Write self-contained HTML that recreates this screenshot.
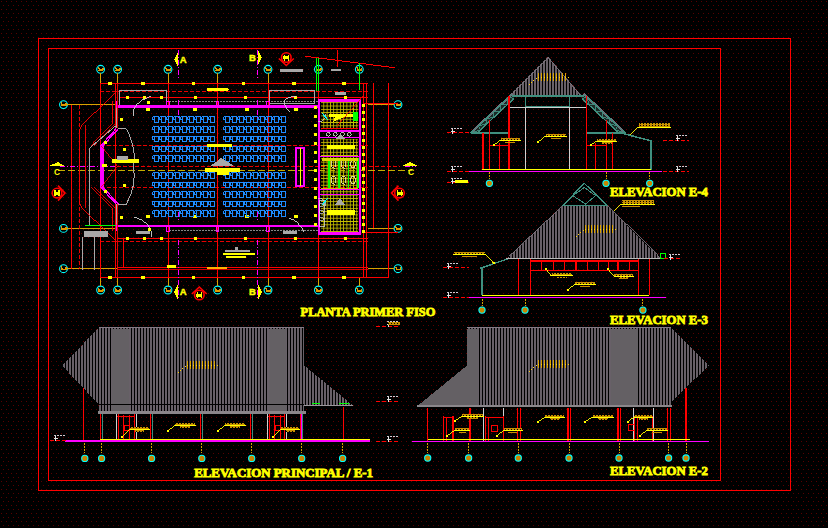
<!DOCTYPE html>
<html><head><meta charset="utf-8"><style>
html,body{margin:0;padding:0;background:#000;width:828px;height:528px;overflow:hidden}
svg{display:block}
</style></head><body>
<svg width="828" height="528" viewBox="0 0 828 528" shape-rendering="crispEdges">
<defs><pattern id="txt" width="3" height="2" patternUnits="userSpaceOnUse"><rect width="3" height="2" fill="#c89000"/><rect x="1" y="1" width="1" height="1" fill="#000"/></pattern><pattern id="dots" width="10" height="8" patternUnits="userSpaceOnUse"><rect width="10" height="8" fill="#000"/><rect x="1" y="1" width="1" height="1" fill="#5a0000"/><rect x="6" y="1" width="1" height="1" fill="#5a0000"/><rect x="3" y="5" width="1" height="1" fill="#5a0000"/><rect x="8" y="5" width="1" height="1" fill="#5a0000"/></pattern></defs>
<rect width="828" height="528" fill="url(#dots)"/>
<rect x="38.5" y="38.5" width="752" height="452" fill="none" stroke="#ff0000" stroke-width="1.6" />
<rect x="48.5" y="48.5" width="672" height="432" fill="none" stroke="#ff0000" stroke-width="1.6" />
<circle cx="100.6" cy="69.3" r="3.9" fill="#000" stroke="#00ffff" stroke-width="1.1" shape-rendering="geometricPrecision"/>
<path d="M98.1,67.3 l1.5,2.5 h3.5 v-2 M98.1,70.3 h5" stroke="#e09a00" stroke-width="1.3" fill="none"/>
<circle cx="100.6" cy="290" r="3.9" fill="#000" stroke="#00ffff" stroke-width="1.1" shape-rendering="geometricPrecision"/>
<path d="M98.1,288 l1.5,2.5 h3.5 v-2 M98.1,291 h5" stroke="#e09a00" stroke-width="1.3" fill="none"/>
<line x1="100.6" y1="73.2" x2="100.6" y2="83" stroke="#d9a300" stroke-width="1" />
<line x1="100.6" y1="278" x2="100.6" y2="286.2" stroke="#d9a300" stroke-width="1" />
<circle cx="117.6" cy="69.3" r="3.9" fill="#000" stroke="#00ffff" stroke-width="1.1" shape-rendering="geometricPrecision"/>
<path d="M115.1,67.3 l1.5,2.5 h3.5 v-2 M115.1,70.3 h5" stroke="#e09a00" stroke-width="1.3" fill="none"/>
<circle cx="117.6" cy="290" r="3.9" fill="#000" stroke="#00ffff" stroke-width="1.1" shape-rendering="geometricPrecision"/>
<path d="M115.1,288 l1.5,2.5 h3.5 v-2 M115.1,291 h5" stroke="#e09a00" stroke-width="1.3" fill="none"/>
<line x1="117.6" y1="73.2" x2="117.6" y2="83" stroke="#d9a300" stroke-width="1" />
<line x1="117.6" y1="278" x2="117.6" y2="286.2" stroke="#d9a300" stroke-width="1" />
<circle cx="168" cy="69.3" r="3.9" fill="#000" stroke="#00ffff" stroke-width="1.1" shape-rendering="geometricPrecision"/>
<path d="M165.5,67.3 l1.5,2.5 h3.5 v-2 M165.5,70.3 h5" stroke="#e09a00" stroke-width="1.3" fill="none"/>
<circle cx="168" cy="290" r="3.9" fill="#000" stroke="#00ffff" stroke-width="1.1" shape-rendering="geometricPrecision"/>
<path d="M165.5,288 l1.5,2.5 h3.5 v-2 M165.5,291 h5" stroke="#e09a00" stroke-width="1.3" fill="none"/>
<line x1="168" y1="73.2" x2="168" y2="83" stroke="#d9a300" stroke-width="1" />
<line x1="168" y1="278" x2="168" y2="286.2" stroke="#d9a300" stroke-width="1" />
<circle cx="217.6" cy="69.3" r="3.9" fill="#000" stroke="#00ffff" stroke-width="1.1" shape-rendering="geometricPrecision"/>
<path d="M215.1,67.3 l1.5,2.5 h3.5 v-2 M215.1,70.3 h5" stroke="#e09a00" stroke-width="1.3" fill="none"/>
<circle cx="217.6" cy="290" r="3.9" fill="#000" stroke="#00ffff" stroke-width="1.1" shape-rendering="geometricPrecision"/>
<path d="M215.1,288 l1.5,2.5 h3.5 v-2 M215.1,291 h5" stroke="#e09a00" stroke-width="1.3" fill="none"/>
<line x1="217.6" y1="73.2" x2="217.6" y2="83" stroke="#d9a300" stroke-width="1" />
<line x1="217.6" y1="278" x2="217.6" y2="286.2" stroke="#d9a300" stroke-width="1" />
<circle cx="268" cy="69.3" r="3.9" fill="#000" stroke="#00ffff" stroke-width="1.1" shape-rendering="geometricPrecision"/>
<path d="M265.5,67.3 l1.5,2.5 h3.5 v-2 M265.5,70.3 h5" stroke="#e09a00" stroke-width="1.3" fill="none"/>
<circle cx="268" cy="290" r="3.9" fill="#000" stroke="#00ffff" stroke-width="1.1" shape-rendering="geometricPrecision"/>
<path d="M265.5,288 l1.5,2.5 h3.5 v-2 M265.5,291 h5" stroke="#e09a00" stroke-width="1.3" fill="none"/>
<line x1="268" y1="73.2" x2="268" y2="83" stroke="#d9a300" stroke-width="1" />
<line x1="268" y1="278" x2="268" y2="286.2" stroke="#d9a300" stroke-width="1" />
<circle cx="318.4" cy="69.3" r="3.9" fill="#000" stroke="#00ffff" stroke-width="1.1" shape-rendering="geometricPrecision"/>
<path d="M315.9,67.3 l1.5,2.5 h3.5 v-2 M315.9,70.3 h5" stroke="#e09a00" stroke-width="1.3" fill="none"/>
<circle cx="318.4" cy="290" r="3.9" fill="#000" stroke="#00ffff" stroke-width="1.1" shape-rendering="geometricPrecision"/>
<path d="M315.9,288 l1.5,2.5 h3.5 v-2 M315.9,291 h5" stroke="#e09a00" stroke-width="1.3" fill="none"/>
<line x1="318.4" y1="73.2" x2="318.4" y2="83" stroke="#d9a300" stroke-width="1" />
<line x1="318.4" y1="278" x2="318.4" y2="286.2" stroke="#d9a300" stroke-width="1" />
<circle cx="359.3" cy="69.3" r="3.9" fill="#000" stroke="#00ffff" stroke-width="1.1" shape-rendering="geometricPrecision"/>
<path d="M356.8,67.3 l1.5,2.5 h3.5 v-2 M356.8,70.3 h5" stroke="#e09a00" stroke-width="1.3" fill="none"/>
<circle cx="359.3" cy="290" r="3.9" fill="#000" stroke="#00ffff" stroke-width="1.1" shape-rendering="geometricPrecision"/>
<path d="M356.8,288 l1.5,2.5 h3.5 v-2 M356.8,291 h5" stroke="#e09a00" stroke-width="1.3" fill="none"/>
<line x1="359.3" y1="73.2" x2="359.3" y2="83" stroke="#d9a300" stroke-width="1" />
<line x1="359.3" y1="278" x2="359.3" y2="286.2" stroke="#d9a300" stroke-width="1" />
<circle cx="63.5" cy="104.6" r="3.9" fill="#000" stroke="#00ffff" stroke-width="1.1" shape-rendering="geometricPrecision"/>
<path d="M61,102.6 l1.5,2.5 h3.5 v-2 M61,105.6 h5" stroke="#e09a00" stroke-width="1.3" fill="none"/>
<circle cx="398" cy="104.6" r="3.9" fill="#000" stroke="#00ffff" stroke-width="1.1" shape-rendering="geometricPrecision"/>
<path d="M395.5,102.6 l1.5,2.5 h3.5 v-2 M395.5,105.6 h5" stroke="#e09a00" stroke-width="1.3" fill="none"/>
<line x1="67.4" y1="104.6" x2="117" y2="104.6" stroke="#d9a300" stroke-width="1" />
<line x1="368" y1="104.6" x2="394.2" y2="104.6" stroke="#d9a300" stroke-width="1" />
<circle cx="63.5" cy="228.4" r="3.9" fill="#000" stroke="#00ffff" stroke-width="1.1" shape-rendering="geometricPrecision"/>
<path d="M61,226.4 l1.5,2.5 h3.5 v-2 M61,229.4 h5" stroke="#e09a00" stroke-width="1.3" fill="none"/>
<circle cx="398" cy="228.4" r="3.9" fill="#000" stroke="#00ffff" stroke-width="1.1" shape-rendering="geometricPrecision"/>
<path d="M395.5,226.4 l1.5,2.5 h3.5 v-2 M395.5,229.4 h5" stroke="#e09a00" stroke-width="1.3" fill="none"/>
<line x1="67.4" y1="228.4" x2="117" y2="228.4" stroke="#d9a300" stroke-width="1" />
<line x1="368" y1="228.4" x2="394.2" y2="228.4" stroke="#d9a300" stroke-width="1" />
<circle cx="63.5" cy="268.7" r="3.9" fill="#000" stroke="#00ffff" stroke-width="1.1" shape-rendering="geometricPrecision"/>
<path d="M61,266.7 l1.5,2.5 h3.5 v-2 M61,269.7 h5" stroke="#e09a00" stroke-width="1.3" fill="none"/>
<circle cx="398" cy="268.7" r="3.9" fill="#000" stroke="#00ffff" stroke-width="1.1" shape-rendering="geometricPrecision"/>
<path d="M395.5,266.7 l1.5,2.5 h3.5 v-2 M395.5,269.7 h5" stroke="#e09a00" stroke-width="1.3" fill="none"/>
<line x1="67.4" y1="268.7" x2="117" y2="268.7" stroke="#d9a300" stroke-width="1" />
<line x1="368" y1="268.7" x2="394.2" y2="268.7" stroke="#d9a300" stroke-width="1" />
<line x1="100.8" y1="83.3" x2="368" y2="83.3" stroke="#ff0000" stroke-width="1.2" />
<line x1="100.8" y1="277.3" x2="388" y2="277.3" stroke="#ff0000" stroke-width="1.2" />
<rect x="108" y="81.6" width="3.5" height="3" fill="#ffff00" stroke="none" stroke-width="1" />
<rect x="108" y="275.8" width="3.5" height="3" fill="#ffff00" stroke="none" stroke-width="1" />
<rect x="141.4" y="81.6" width="3.5" height="3" fill="#ffff00" stroke="none" stroke-width="1" />
<rect x="141.4" y="275.8" width="3.5" height="3" fill="#ffff00" stroke="none" stroke-width="1" />
<rect x="191.6" y="81.6" width="3.5" height="3" fill="#ffff00" stroke="none" stroke-width="1" />
<rect x="191.6" y="275.8" width="3.5" height="3" fill="#ffff00" stroke="none" stroke-width="1" />
<rect x="241.9" y="81.6" width="3.5" height="3" fill="#ffff00" stroke="none" stroke-width="1" />
<rect x="241.9" y="275.8" width="3.5" height="3" fill="#ffff00" stroke="none" stroke-width="1" />
<rect x="292" y="81.6" width="3.5" height="3" fill="#ffff00" stroke="none" stroke-width="1" />
<rect x="292" y="275.8" width="3.5" height="3" fill="#ffff00" stroke="none" stroke-width="1" />
<rect x="342" y="81.6" width="3.5" height="3" fill="#ffff00" stroke="none" stroke-width="1" />
<rect x="342" y="275.8" width="3.5" height="3" fill="#ffff00" stroke="none" stroke-width="1" />
<line x1="100" y1="91.4" x2="368" y2="91.4" stroke="#ff0000" stroke-width="0.9" stroke-dasharray="4,2"/>
<line x1="119" y1="97.5" x2="368" y2="97.5" stroke="#ff0000" stroke-width="1" />
<line x1="117" y1="238.6" x2="368" y2="238.6" stroke="#ff0000" stroke-width="1" />
<line x1="100" y1="241.9" x2="368" y2="241.9" stroke="#ff0000" stroke-width="0.9" stroke-dasharray="4,2"/>
<rect x="126" y="96" width="3" height="3" fill="#ffff00" stroke="none" stroke-width="1" />
<rect x="126" y="237.2" width="3" height="3" fill="#ffff00" stroke="none" stroke-width="1" />
<rect x="143" y="96" width="3" height="3" fill="#ffff00" stroke="none" stroke-width="1" />
<rect x="143" y="237.2" width="3" height="3" fill="#ffff00" stroke="none" stroke-width="1" />
<rect x="159.7" y="96" width="3" height="3" fill="#ffff00" stroke="none" stroke-width="1" />
<rect x="159.7" y="237.2" width="3" height="3" fill="#ffff00" stroke="none" stroke-width="1" />
<rect x="193.5" y="96" width="3" height="3" fill="#ffff00" stroke="none" stroke-width="1" />
<rect x="193.5" y="237.2" width="3" height="3" fill="#ffff00" stroke="none" stroke-width="1" />
<rect x="243.8" y="96" width="3" height="3" fill="#ffff00" stroke="none" stroke-width="1" />
<rect x="243.8" y="237.2" width="3" height="3" fill="#ffff00" stroke="none" stroke-width="1" />
<rect x="294" y="96" width="3" height="3" fill="#ffff00" stroke="none" stroke-width="1" />
<rect x="294" y="237.2" width="3" height="3" fill="#ffff00" stroke="none" stroke-width="1" />
<rect x="344" y="96" width="3" height="3" fill="#ffff00" stroke="none" stroke-width="1" />
<rect x="344" y="237.2" width="3" height="3" fill="#ffff00" stroke="none" stroke-width="1" />
<rect x="145.6" y="108.2" width="4" height="2.8" fill="#ffff00" stroke="none" stroke-width="1" />
<rect x="145.6" y="215" width="4" height="2.8" fill="#ffff00" stroke="none" stroke-width="1" />
<rect x="192.6" y="108.2" width="4" height="2.8" fill="#ffff00" stroke="none" stroke-width="1" />
<rect x="192.6" y="215" width="4" height="2.8" fill="#ffff00" stroke="none" stroke-width="1" />
<rect x="244.8" y="108.2" width="4" height="2.8" fill="#ffff00" stroke="none" stroke-width="1" />
<rect x="244.8" y="215" width="4" height="2.8" fill="#ffff00" stroke="none" stroke-width="1" />
<rect x="294" y="108.2" width="4" height="2.8" fill="#ffff00" stroke="none" stroke-width="1" />
<rect x="294" y="215" width="4" height="2.8" fill="#ffff00" stroke="none" stroke-width="1" />
<line x1="100.6" y1="83" x2="100.6" y2="277.5" stroke="#ff0000" stroke-width="1" />
<line x1="115.3" y1="83" x2="115.3" y2="277.5" stroke="#ff0000" stroke-width="1" />
<line x1="168" y1="83" x2="168" y2="277.5" stroke="#ff0000" stroke-width="1" />
<line x1="217.6" y1="83" x2="217.6" y2="277.5" stroke="#ff0000" stroke-width="1" />
<line x1="268" y1="83" x2="268" y2="277.5" stroke="#ff0000" stroke-width="1" />
<line x1="318.4" y1="83" x2="318.4" y2="277.5" stroke="#ff0000" stroke-width="1" />
<line x1="363.2" y1="83" x2="363.2" y2="277.5" stroke="#ff0000" stroke-width="1" />
<line x1="366.7" y1="83" x2="366.7" y2="277.5" stroke="#ff0000" stroke-width="1" />
<line x1="388.3" y1="83" x2="388.3" y2="277.5" stroke="#ff0000" stroke-width="1" />
<line x1="373.8" y1="83" x2="373.8" y2="228.4" stroke="#ff0000" stroke-width="1" />
<line x1="71.9" y1="104.6" x2="71.9" y2="269" stroke="#ff0000" stroke-width="1" />
<line x1="79.6" y1="104.6" x2="79.6" y2="269" stroke="#ff0000" stroke-width="0.9" stroke-dasharray="4,2"/>
<line x1="123" y1="238.6" x2="123" y2="268" stroke="#ff0000" stroke-width="1" />
<line x1="101" y1="145.4" x2="368" y2="145.4" stroke="#ff0000" stroke-width="0.9" stroke-dasharray="4,2"/>
<line x1="101" y1="187.3" x2="368" y2="187.3" stroke="#ff0000" stroke-width="0.9" stroke-dasharray="4,2"/>
<line x1="60" y1="166.1" x2="117" y2="166.1" stroke="#ff00ff" stroke-width="1" stroke-dasharray="5,2,1,2"/>
<line x1="117" y1="166.1" x2="400" y2="166.1" stroke="#ff0000" stroke-width="0.9" stroke-dasharray="4,2"/>
<line x1="405" y1="166.1" x2="416" y2="166.1" stroke="#ff00ff" stroke-width="1" stroke-dasharray="5,2,1,2"/>
<line x1="58" y1="170.3" x2="412" y2="170.3" stroke="#d8c000" stroke-width="0.9" stroke-dasharray="7,3"/>
<line x1="117" y1="267.6" x2="368" y2="267.6" stroke="#ff0000" stroke-width="1" />
<line x1="117" y1="269.5" x2="368" y2="269.5" stroke="#ff0000" stroke-width="0.8" />
<line x1="388" y1="103.9" x2="398" y2="103.9" stroke="#ff0000" stroke-width="1" />
<line x1="363" y1="103.9" x2="388" y2="103.9" stroke="#ff0000" stroke-width="1" />
<line x1="363" y1="232" x2="398" y2="232" stroke="#ff0000" stroke-width="1" />
<polygon points="207,88 227.4,88 229.5,89.3 227.4,90.6 207,90.6" fill="#ffff00" stroke="none" stroke-width="1" />
<rect x="119.2" y="90.5" width="47.7" height="15.4" fill="none" stroke="#a8a8a8" stroke-width="1" />
<rect x="269.5" y="90.8" width="45.4" height="12.2" fill="none" stroke="#a8a8a8" stroke-width="1" />
<line x1="169.4" y1="101.7" x2="318" y2="101.7" stroke="#a8a8a8" stroke-width="0.8" stroke-dasharray="2,1"/>
<line x1="169.4" y1="230.5" x2="318" y2="230.5" stroke="#a8a8a8" stroke-width="0.8" stroke-dasharray="2,1"/>
<line x1="116.3" y1="106.3" x2="318.8" y2="106.3" stroke="#ff00ff" stroke-width="2.4" />
<line x1="116.3" y1="225.8" x2="318.8" y2="225.8" stroke="#ff00ff" stroke-width="2.4" />
<rect x="166.8" y="101" width="2.4" height="5" fill="none" stroke="#ff00ff" stroke-width="1" />
<rect x="166.8" y="226" width="2.4" height="5.3" fill="none" stroke="#ff00ff" stroke-width="1" />
<rect x="216.4" y="101" width="2.4" height="5" fill="none" stroke="#ff00ff" stroke-width="1" />
<rect x="216.4" y="226" width="2.4" height="5.3" fill="none" stroke="#ff00ff" stroke-width="1" />
<rect x="266.8" y="101" width="2.4" height="5" fill="none" stroke="#ff00ff" stroke-width="1" />
<rect x="266.8" y="226" width="2.4" height="5.3" fill="none" stroke="#ff00ff" stroke-width="1" />
<polyline points="116.2,128.6 100.9,145.6 100.9,187.3 116.2,204.2" fill="none" stroke="#ff00ff" stroke-width="1.3" />
<polyline points="118.4,128.6 103.1,145.6 103.1,187.3 118.4,204.2" fill="none" stroke="#ff00ff" stroke-width="1.3" />
<line x1="116.5" y1="101" x2="116.5" y2="108.6" stroke="#ff00ff" stroke-width="1.6" />
<line x1="116.5" y1="224" x2="116.5" y2="231" stroke="#ff00ff" stroke-width="1.6" />
<line x1="116" y1="108" x2="116" y2="128" stroke="#a8a8a8" stroke-width="1" />
<line x1="116" y1="204" x2="116" y2="224" stroke="#a8a8a8" stroke-width="1" />
<line x1="112" y1="101" x2="112" y2="124.3" stroke="#ff0000" stroke-width="0.9" />
<line x1="112" y1="208" x2="112" y2="231" stroke="#ff0000" stroke-width="0.9" />
<line x1="117.4" y1="83" x2="117.4" y2="128" stroke="#ff0000" stroke-width="0.9" />
<line x1="117.4" y1="204" x2="117.4" y2="277" stroke="#ff0000" stroke-width="0.9" />
<line x1="114.5" y1="124.3" x2="94" y2="145.6" stroke="#ff0000" stroke-width="0.8" />
<line x1="114.5" y1="208" x2="94" y2="187.3" stroke="#ff0000" stroke-width="0.8" />
<line x1="111.5" y1="124.3" x2="91" y2="145.6" stroke="#ff0000" stroke-width="0.8" />
<line x1="111.5" y1="208" x2="91" y2="187.3" stroke="#ff0000" stroke-width="0.8" />
<polyline points="118,128.6 126.4,128.6" fill="none" stroke="#a8a8a8" stroke-width="1" />
<path d="M126.4,128.6 Q137,150 133.3,166 Q137,185 126.4,204 L118,204" fill="none" stroke="#a8a8a8" stroke-width="1"/>
<polyline points="115.4,126 89.8,148 89.8,226" fill="none" stroke="#a8a8a8" stroke-width="1" />
<polyline points="117.4,91 82,125 79.6,130 79.6,203 82,208 117.4,242" fill="none" stroke="#ff0000" stroke-width="0.9" />
<line x1="85.2" y1="125" x2="85.2" y2="208" stroke="#ff0000" stroke-width="0.9" />
<polyline points="101.4,146 117.4,166 101.4,187" fill="none" stroke="#ff0000" stroke-width="0.8" />
<rect x="111.5" y="159.3" width="27" height="3.5" fill="#ffff00" stroke="none" stroke-width="1" />
<rect x="117.3" y="156.4" width="10.7" height="3.1" fill="#a8a8a8" stroke="none" stroke-width="1" />
<rect x="101.8" y="164" width="4.9" height="3" fill="#ffff00" stroke="none" stroke-width="1" />
<polygon points="48.7,166 58,162.2 65,166" fill="#ffff00" stroke="none" stroke-width="1" />
<text x="54" y="175" font-size="8.5" fill="#ffff00" font-family="Liberation Sans" font-weight="bold">C</text>
<text x="408" y="175" font-size="8.5" fill="#ffff00" font-family="Liberation Sans" font-weight="bold">C</text>
<polygon points="402,166 410,162.2 418,166" fill="#ffff00" stroke="none" stroke-width="1" />
<circle cx="57" cy="193.1" r="4.8" fill="#000" stroke="#ff0000" stroke-width="1.6" shape-rendering="geometricPrecision"/>
<polyline points="58,185.6 65,193.1 58,200.6" fill="none" stroke="#ff0000" stroke-width="1.6" shape-rendering="geometricPrecision"/>
<rect x="54" y="191.6" width="6" height="3" fill="#ffff00" stroke="none" stroke-width="1" />
<line x1="55" y1="190.1" x2="55" y2="196.1" stroke="#ffff00" stroke-width="1.2" />
<line x1="59" y1="190.1" x2="59" y2="196.1" stroke="#ffff00" stroke-width="1.2" />
<circle cx="399.5" cy="193.1" r="4.8" fill="#000" stroke="#ff0000" stroke-width="1.6" shape-rendering="geometricPrecision"/>
<polyline points="398.5,185.6 391.5,193.1 398.5,200.6" fill="none" stroke="#ff0000" stroke-width="1.6" shape-rendering="geometricPrecision"/>
<rect x="396.5" y="191.6" width="6" height="3" fill="#ffff00" stroke="none" stroke-width="1" />
<line x1="397.5" y1="190.1" x2="397.5" y2="196.1" stroke="#ffff00" stroke-width="1.2" />
<line x1="401.5" y1="190.1" x2="401.5" y2="196.1" stroke="#ffff00" stroke-width="1.2" />
<rect x="120" y="118" width="3" height="2.5" fill="#ffff00" stroke="none" stroke-width="1" />
<rect x="120" y="216" width="3" height="2.5" fill="#ffff00" stroke="none" stroke-width="1" />
<rect x="104" y="141" width="3" height="2.5" fill="#ffff00" stroke="none" stroke-width="1" />
<rect x="104" y="190" width="3" height="2.5" fill="#ffff00" stroke="none" stroke-width="1" />
<rect x="123" y="148" width="3" height="2.5" fill="#ffff00" stroke="none" stroke-width="1" />
<rect x="123" y="184" width="3" height="2.5" fill="#ffff00" stroke="none" stroke-width="1" />
<path d="M152.5,116.5 H158.5 M152.5,116.5 V119.5 H154.5 V116.5 M154.5,117.5 V122 H158.5 V116.5" fill="none" stroke="#1e8cff" stroke-width="1"/>
<path d="M223.5,116.5 H229.5 M223.5,116.5 V119.5 H225.5 V116.5 M225.5,117.5 V122 H229.5 V116.5" fill="none" stroke="#1e8cff" stroke-width="1"/>
<path d="M159.5,116.5 H165.5 M159.5,116.5 V119.5 H161.5 V116.5 M161.5,117.5 V122 H165.5 V116.5" fill="none" stroke="#1e8cff" stroke-width="1"/>
<path d="M230.5,116.5 H236.5 M230.5,116.5 V119.5 H232.5 V116.5 M232.5,117.5 V122 H236.5 V116.5" fill="none" stroke="#1e8cff" stroke-width="1"/>
<path d="M166.5,116.5 H172.5 M166.5,116.5 V119.5 H168.5 V116.5 M168.5,117.5 V122 H172.5 V116.5" fill="none" stroke="#1e8cff" stroke-width="1"/>
<path d="M237.5,116.5 H243.5 M237.5,116.5 V119.5 H239.5 V116.5 M239.5,117.5 V122 H243.5 V116.5" fill="none" stroke="#1e8cff" stroke-width="1"/>
<path d="M173.5,116.5 H179.5 M173.5,116.5 V119.5 H175.5 V116.5 M175.5,117.5 V122 H179.5 V116.5" fill="none" stroke="#1e8cff" stroke-width="1"/>
<path d="M244.5,116.5 H250.5 M244.5,116.5 V119.5 H246.5 V116.5 M246.5,117.5 V122 H250.5 V116.5" fill="none" stroke="#1e8cff" stroke-width="1"/>
<path d="M180.5,116.5 H186.5 M180.5,116.5 V119.5 H182.5 V116.5 M182.5,117.5 V122 H186.5 V116.5" fill="none" stroke="#1e8cff" stroke-width="1"/>
<path d="M251.5,116.5 H257.5 M251.5,116.5 V119.5 H253.5 V116.5 M253.5,117.5 V122 H257.5 V116.5" fill="none" stroke="#1e8cff" stroke-width="1"/>
<path d="M187.5,116.5 H193.5 M187.5,116.5 V119.5 H189.5 V116.5 M189.5,117.5 V122 H193.5 V116.5" fill="none" stroke="#1e8cff" stroke-width="1"/>
<path d="M258.5,116.5 H264.5 M258.5,116.5 V119.5 H260.5 V116.5 M260.5,117.5 V122 H264.5 V116.5" fill="none" stroke="#1e8cff" stroke-width="1"/>
<path d="M194.5,116.5 H200.5 M194.5,116.5 V119.5 H196.5 V116.5 M196.5,117.5 V122 H200.5 V116.5" fill="none" stroke="#1e8cff" stroke-width="1"/>
<path d="M265.5,116.5 H271.5 M265.5,116.5 V119.5 H267.5 V116.5 M267.5,117.5 V122 H271.5 V116.5" fill="none" stroke="#1e8cff" stroke-width="1"/>
<path d="M201.5,116.5 H207.5 M201.5,116.5 V119.5 H203.5 V116.5 M203.5,117.5 V122 H207.5 V116.5" fill="none" stroke="#1e8cff" stroke-width="1"/>
<path d="M272.5,116.5 H278.5 M272.5,116.5 V119.5 H274.5 V116.5 M274.5,117.5 V122 H278.5 V116.5" fill="none" stroke="#1e8cff" stroke-width="1"/>
<path d="M208.5,116.5 H214.5 M208.5,116.5 V119.5 H210.5 V116.5 M210.5,117.5 V122 H214.5 V116.5" fill="none" stroke="#1e8cff" stroke-width="1"/>
<path d="M279.5,116.5 H285.5 M279.5,116.5 V119.5 H281.5 V116.5 M281.5,117.5 V122 H285.5 V116.5" fill="none" stroke="#1e8cff" stroke-width="1"/>
<path d="M152.5,126.5 H158.5 M152.5,126.5 V129.5 H154.5 V126.5 M154.5,127.5 V132 H158.5 V126.5" fill="none" stroke="#1e8cff" stroke-width="1"/>
<path d="M223.5,126.5 H229.5 M223.5,126.5 V129.5 H225.5 V126.5 M225.5,127.5 V132 H229.5 V126.5" fill="none" stroke="#1e8cff" stroke-width="1"/>
<path d="M159.5,126.5 H165.5 M159.5,126.5 V129.5 H161.5 V126.5 M161.5,127.5 V132 H165.5 V126.5" fill="none" stroke="#1e8cff" stroke-width="1"/>
<path d="M230.5,126.5 H236.5 M230.5,126.5 V129.5 H232.5 V126.5 M232.5,127.5 V132 H236.5 V126.5" fill="none" stroke="#1e8cff" stroke-width="1"/>
<path d="M166.5,126.5 H172.5 M166.5,126.5 V129.5 H168.5 V126.5 M168.5,127.5 V132 H172.5 V126.5" fill="none" stroke="#1e8cff" stroke-width="1"/>
<path d="M237.5,126.5 H243.5 M237.5,126.5 V129.5 H239.5 V126.5 M239.5,127.5 V132 H243.5 V126.5" fill="none" stroke="#1e8cff" stroke-width="1"/>
<path d="M173.5,126.5 H179.5 M173.5,126.5 V129.5 H175.5 V126.5 M175.5,127.5 V132 H179.5 V126.5" fill="none" stroke="#1e8cff" stroke-width="1"/>
<path d="M244.5,126.5 H250.5 M244.5,126.5 V129.5 H246.5 V126.5 M246.5,127.5 V132 H250.5 V126.5" fill="none" stroke="#1e8cff" stroke-width="1"/>
<path d="M180.5,126.5 H186.5 M180.5,126.5 V129.5 H182.5 V126.5 M182.5,127.5 V132 H186.5 V126.5" fill="none" stroke="#1e8cff" stroke-width="1"/>
<path d="M251.5,126.5 H257.5 M251.5,126.5 V129.5 H253.5 V126.5 M253.5,127.5 V132 H257.5 V126.5" fill="none" stroke="#1e8cff" stroke-width="1"/>
<path d="M187.5,126.5 H193.5 M187.5,126.5 V129.5 H189.5 V126.5 M189.5,127.5 V132 H193.5 V126.5" fill="none" stroke="#1e8cff" stroke-width="1"/>
<path d="M258.5,126.5 H264.5 M258.5,126.5 V129.5 H260.5 V126.5 M260.5,127.5 V132 H264.5 V126.5" fill="none" stroke="#1e8cff" stroke-width="1"/>
<path d="M194.5,126.5 H200.5 M194.5,126.5 V129.5 H196.5 V126.5 M196.5,127.5 V132 H200.5 V126.5" fill="none" stroke="#1e8cff" stroke-width="1"/>
<path d="M265.5,126.5 H271.5 M265.5,126.5 V129.5 H267.5 V126.5 M267.5,127.5 V132 H271.5 V126.5" fill="none" stroke="#1e8cff" stroke-width="1"/>
<path d="M201.5,126.5 H207.5 M201.5,126.5 V129.5 H203.5 V126.5 M203.5,127.5 V132 H207.5 V126.5" fill="none" stroke="#1e8cff" stroke-width="1"/>
<path d="M272.5,126.5 H278.5 M272.5,126.5 V129.5 H274.5 V126.5 M274.5,127.5 V132 H278.5 V126.5" fill="none" stroke="#1e8cff" stroke-width="1"/>
<path d="M208.5,126.5 H214.5 M208.5,126.5 V129.5 H210.5 V126.5 M210.5,127.5 V132 H214.5 V126.5" fill="none" stroke="#1e8cff" stroke-width="1"/>
<path d="M279.5,126.5 H285.5 M279.5,126.5 V129.5 H281.5 V126.5 M281.5,127.5 V132 H285.5 V126.5" fill="none" stroke="#1e8cff" stroke-width="1"/>
<path d="M152.5,136 H158.5 M152.5,136 V139 H154.5 V136 M154.5,137 V141.5 H158.5 V136" fill="none" stroke="#1e8cff" stroke-width="1"/>
<path d="M223.5,136 H229.5 M223.5,136 V139 H225.5 V136 M225.5,137 V141.5 H229.5 V136" fill="none" stroke="#1e8cff" stroke-width="1"/>
<path d="M159.5,136 H165.5 M159.5,136 V139 H161.5 V136 M161.5,137 V141.5 H165.5 V136" fill="none" stroke="#1e8cff" stroke-width="1"/>
<path d="M230.5,136 H236.5 M230.5,136 V139 H232.5 V136 M232.5,137 V141.5 H236.5 V136" fill="none" stroke="#1e8cff" stroke-width="1"/>
<path d="M166.5,136 H172.5 M166.5,136 V139 H168.5 V136 M168.5,137 V141.5 H172.5 V136" fill="none" stroke="#1e8cff" stroke-width="1"/>
<path d="M237.5,136 H243.5 M237.5,136 V139 H239.5 V136 M239.5,137 V141.5 H243.5 V136" fill="none" stroke="#1e8cff" stroke-width="1"/>
<path d="M173.5,136 H179.5 M173.5,136 V139 H175.5 V136 M175.5,137 V141.5 H179.5 V136" fill="none" stroke="#1e8cff" stroke-width="1"/>
<path d="M244.5,136 H250.5 M244.5,136 V139 H246.5 V136 M246.5,137 V141.5 H250.5 V136" fill="none" stroke="#1e8cff" stroke-width="1"/>
<path d="M180.5,136 H186.5 M180.5,136 V139 H182.5 V136 M182.5,137 V141.5 H186.5 V136" fill="none" stroke="#1e8cff" stroke-width="1"/>
<path d="M251.5,136 H257.5 M251.5,136 V139 H253.5 V136 M253.5,137 V141.5 H257.5 V136" fill="none" stroke="#1e8cff" stroke-width="1"/>
<path d="M187.5,136 H193.5 M187.5,136 V139 H189.5 V136 M189.5,137 V141.5 H193.5 V136" fill="none" stroke="#1e8cff" stroke-width="1"/>
<path d="M258.5,136 H264.5 M258.5,136 V139 H260.5 V136 M260.5,137 V141.5 H264.5 V136" fill="none" stroke="#1e8cff" stroke-width="1"/>
<path d="M194.5,136 H200.5 M194.5,136 V139 H196.5 V136 M196.5,137 V141.5 H200.5 V136" fill="none" stroke="#1e8cff" stroke-width="1"/>
<path d="M265.5,136 H271.5 M265.5,136 V139 H267.5 V136 M267.5,137 V141.5 H271.5 V136" fill="none" stroke="#1e8cff" stroke-width="1"/>
<path d="M201.5,136 H207.5 M201.5,136 V139 H203.5 V136 M203.5,137 V141.5 H207.5 V136" fill="none" stroke="#1e8cff" stroke-width="1"/>
<path d="M272.5,136 H278.5 M272.5,136 V139 H274.5 V136 M274.5,137 V141.5 H278.5 V136" fill="none" stroke="#1e8cff" stroke-width="1"/>
<path d="M208.5,136 H214.5 M208.5,136 V139 H210.5 V136 M210.5,137 V141.5 H214.5 V136" fill="none" stroke="#1e8cff" stroke-width="1"/>
<path d="M279.5,136 H285.5 M279.5,136 V139 H281.5 V136 M281.5,137 V141.5 H285.5 V136" fill="none" stroke="#1e8cff" stroke-width="1"/>
<path d="M152.5,146 H158.5 M152.5,146 V149 H154.5 V146 M154.5,147 V151.5 H158.5 V146" fill="none" stroke="#1e8cff" stroke-width="1"/>
<path d="M223.5,146 H229.5 M223.5,146 V149 H225.5 V146 M225.5,147 V151.5 H229.5 V146" fill="none" stroke="#1e8cff" stroke-width="1"/>
<path d="M159.5,146 H165.5 M159.5,146 V149 H161.5 V146 M161.5,147 V151.5 H165.5 V146" fill="none" stroke="#1e8cff" stroke-width="1"/>
<path d="M230.5,146 H236.5 M230.5,146 V149 H232.5 V146 M232.5,147 V151.5 H236.5 V146" fill="none" stroke="#1e8cff" stroke-width="1"/>
<path d="M166.5,146 H172.5 M166.5,146 V149 H168.5 V146 M168.5,147 V151.5 H172.5 V146" fill="none" stroke="#1e8cff" stroke-width="1"/>
<path d="M237.5,146 H243.5 M237.5,146 V149 H239.5 V146 M239.5,147 V151.5 H243.5 V146" fill="none" stroke="#1e8cff" stroke-width="1"/>
<path d="M173.5,146 H179.5 M173.5,146 V149 H175.5 V146 M175.5,147 V151.5 H179.5 V146" fill="none" stroke="#1e8cff" stroke-width="1"/>
<path d="M244.5,146 H250.5 M244.5,146 V149 H246.5 V146 M246.5,147 V151.5 H250.5 V146" fill="none" stroke="#1e8cff" stroke-width="1"/>
<path d="M180.5,146 H186.5 M180.5,146 V149 H182.5 V146 M182.5,147 V151.5 H186.5 V146" fill="none" stroke="#1e8cff" stroke-width="1"/>
<path d="M251.5,146 H257.5 M251.5,146 V149 H253.5 V146 M253.5,147 V151.5 H257.5 V146" fill="none" stroke="#1e8cff" stroke-width="1"/>
<path d="M187.5,146 H193.5 M187.5,146 V149 H189.5 V146 M189.5,147 V151.5 H193.5 V146" fill="none" stroke="#1e8cff" stroke-width="1"/>
<path d="M258.5,146 H264.5 M258.5,146 V149 H260.5 V146 M260.5,147 V151.5 H264.5 V146" fill="none" stroke="#1e8cff" stroke-width="1"/>
<path d="M194.5,146 H200.5 M194.5,146 V149 H196.5 V146 M196.5,147 V151.5 H200.5 V146" fill="none" stroke="#1e8cff" stroke-width="1"/>
<path d="M265.5,146 H271.5 M265.5,146 V149 H267.5 V146 M267.5,147 V151.5 H271.5 V146" fill="none" stroke="#1e8cff" stroke-width="1"/>
<path d="M201.5,146 H207.5 M201.5,146 V149 H203.5 V146 M203.5,147 V151.5 H207.5 V146" fill="none" stroke="#1e8cff" stroke-width="1"/>
<path d="M272.5,146 H278.5 M272.5,146 V149 H274.5 V146 M274.5,147 V151.5 H278.5 V146" fill="none" stroke="#1e8cff" stroke-width="1"/>
<path d="M208.5,146 H214.5 M208.5,146 V149 H210.5 V146 M210.5,147 V151.5 H214.5 V146" fill="none" stroke="#1e8cff" stroke-width="1"/>
<path d="M279.5,146 H285.5 M279.5,146 V149 H281.5 V146 M281.5,147 V151.5 H285.5 V146" fill="none" stroke="#1e8cff" stroke-width="1"/>
<path d="M152.5,155.5 H158.5 M152.5,155.5 V158.5 H154.5 V155.5 M154.5,156.5 V161 H158.5 V155.5" fill="none" stroke="#1e8cff" stroke-width="1"/>
<path d="M223.5,155.5 H229.5 M223.5,155.5 V158.5 H225.5 V155.5 M225.5,156.5 V161 H229.5 V155.5" fill="none" stroke="#1e8cff" stroke-width="1"/>
<path d="M159.5,155.5 H165.5 M159.5,155.5 V158.5 H161.5 V155.5 M161.5,156.5 V161 H165.5 V155.5" fill="none" stroke="#1e8cff" stroke-width="1"/>
<path d="M230.5,155.5 H236.5 M230.5,155.5 V158.5 H232.5 V155.5 M232.5,156.5 V161 H236.5 V155.5" fill="none" stroke="#1e8cff" stroke-width="1"/>
<path d="M166.5,155.5 H172.5 M166.5,155.5 V158.5 H168.5 V155.5 M168.5,156.5 V161 H172.5 V155.5" fill="none" stroke="#1e8cff" stroke-width="1"/>
<path d="M237.5,155.5 H243.5 M237.5,155.5 V158.5 H239.5 V155.5 M239.5,156.5 V161 H243.5 V155.5" fill="none" stroke="#1e8cff" stroke-width="1"/>
<path d="M173.5,155.5 H179.5 M173.5,155.5 V158.5 H175.5 V155.5 M175.5,156.5 V161 H179.5 V155.5" fill="none" stroke="#1e8cff" stroke-width="1"/>
<path d="M244.5,155.5 H250.5 M244.5,155.5 V158.5 H246.5 V155.5 M246.5,156.5 V161 H250.5 V155.5" fill="none" stroke="#1e8cff" stroke-width="1"/>
<path d="M180.5,155.5 H186.5 M180.5,155.5 V158.5 H182.5 V155.5 M182.5,156.5 V161 H186.5 V155.5" fill="none" stroke="#1e8cff" stroke-width="1"/>
<path d="M251.5,155.5 H257.5 M251.5,155.5 V158.5 H253.5 V155.5 M253.5,156.5 V161 H257.5 V155.5" fill="none" stroke="#1e8cff" stroke-width="1"/>
<path d="M187.5,155.5 H193.5 M187.5,155.5 V158.5 H189.5 V155.5 M189.5,156.5 V161 H193.5 V155.5" fill="none" stroke="#1e8cff" stroke-width="1"/>
<path d="M258.5,155.5 H264.5 M258.5,155.5 V158.5 H260.5 V155.5 M260.5,156.5 V161 H264.5 V155.5" fill="none" stroke="#1e8cff" stroke-width="1"/>
<path d="M194.5,155.5 H200.5 M194.5,155.5 V158.5 H196.5 V155.5 M196.5,156.5 V161 H200.5 V155.5" fill="none" stroke="#1e8cff" stroke-width="1"/>
<path d="M265.5,155.5 H271.5 M265.5,155.5 V158.5 H267.5 V155.5 M267.5,156.5 V161 H271.5 V155.5" fill="none" stroke="#1e8cff" stroke-width="1"/>
<path d="M201.5,155.5 H207.5 M201.5,155.5 V158.5 H203.5 V155.5 M203.5,156.5 V161 H207.5 V155.5" fill="none" stroke="#1e8cff" stroke-width="1"/>
<path d="M272.5,155.5 H278.5 M272.5,155.5 V158.5 H274.5 V155.5 M274.5,156.5 V161 H278.5 V155.5" fill="none" stroke="#1e8cff" stroke-width="1"/>
<path d="M208.5,155.5 H214.5 M208.5,155.5 V158.5 H210.5 V155.5 M210.5,156.5 V161 H214.5 V155.5" fill="none" stroke="#1e8cff" stroke-width="1"/>
<path d="M279.5,155.5 H285.5 M279.5,155.5 V158.5 H281.5 V155.5 M281.5,156.5 V161 H285.5 V155.5" fill="none" stroke="#1e8cff" stroke-width="1"/>
<path d="M152.5,172.5 H158.5 M152.5,172.5 V175.5 H154.5 V172.5 M154.5,173.5 V178 H158.5 V172.5" fill="none" stroke="#1e8cff" stroke-width="1"/>
<path d="M223.5,172.5 H229.5 M223.5,172.5 V175.5 H225.5 V172.5 M225.5,173.5 V178 H229.5 V172.5" fill="none" stroke="#1e8cff" stroke-width="1"/>
<path d="M159.5,172.5 H165.5 M159.5,172.5 V175.5 H161.5 V172.5 M161.5,173.5 V178 H165.5 V172.5" fill="none" stroke="#1e8cff" stroke-width="1"/>
<path d="M230.5,172.5 H236.5 M230.5,172.5 V175.5 H232.5 V172.5 M232.5,173.5 V178 H236.5 V172.5" fill="none" stroke="#1e8cff" stroke-width="1"/>
<path d="M166.5,172.5 H172.5 M166.5,172.5 V175.5 H168.5 V172.5 M168.5,173.5 V178 H172.5 V172.5" fill="none" stroke="#1e8cff" stroke-width="1"/>
<path d="M237.5,172.5 H243.5 M237.5,172.5 V175.5 H239.5 V172.5 M239.5,173.5 V178 H243.5 V172.5" fill="none" stroke="#1e8cff" stroke-width="1"/>
<path d="M173.5,172.5 H179.5 M173.5,172.5 V175.5 H175.5 V172.5 M175.5,173.5 V178 H179.5 V172.5" fill="none" stroke="#1e8cff" stroke-width="1"/>
<path d="M244.5,172.5 H250.5 M244.5,172.5 V175.5 H246.5 V172.5 M246.5,173.5 V178 H250.5 V172.5" fill="none" stroke="#1e8cff" stroke-width="1"/>
<path d="M180.5,172.5 H186.5 M180.5,172.5 V175.5 H182.5 V172.5 M182.5,173.5 V178 H186.5 V172.5" fill="none" stroke="#1e8cff" stroke-width="1"/>
<path d="M251.5,172.5 H257.5 M251.5,172.5 V175.5 H253.5 V172.5 M253.5,173.5 V178 H257.5 V172.5" fill="none" stroke="#1e8cff" stroke-width="1"/>
<path d="M187.5,172.5 H193.5 M187.5,172.5 V175.5 H189.5 V172.5 M189.5,173.5 V178 H193.5 V172.5" fill="none" stroke="#1e8cff" stroke-width="1"/>
<path d="M258.5,172.5 H264.5 M258.5,172.5 V175.5 H260.5 V172.5 M260.5,173.5 V178 H264.5 V172.5" fill="none" stroke="#1e8cff" stroke-width="1"/>
<path d="M194.5,172.5 H200.5 M194.5,172.5 V175.5 H196.5 V172.5 M196.5,173.5 V178 H200.5 V172.5" fill="none" stroke="#1e8cff" stroke-width="1"/>
<path d="M265.5,172.5 H271.5 M265.5,172.5 V175.5 H267.5 V172.5 M267.5,173.5 V178 H271.5 V172.5" fill="none" stroke="#1e8cff" stroke-width="1"/>
<path d="M201.5,172.5 H207.5 M201.5,172.5 V175.5 H203.5 V172.5 M203.5,173.5 V178 H207.5 V172.5" fill="none" stroke="#1e8cff" stroke-width="1"/>
<path d="M272.5,172.5 H278.5 M272.5,172.5 V175.5 H274.5 V172.5 M274.5,173.5 V178 H278.5 V172.5" fill="none" stroke="#1e8cff" stroke-width="1"/>
<path d="M208.5,172.5 H214.5 M208.5,172.5 V175.5 H210.5 V172.5 M210.5,173.5 V178 H214.5 V172.5" fill="none" stroke="#1e8cff" stroke-width="1"/>
<path d="M279.5,172.5 H285.5 M279.5,172.5 V175.5 H281.5 V172.5 M281.5,173.5 V178 H285.5 V172.5" fill="none" stroke="#1e8cff" stroke-width="1"/>
<path d="M152.5,182 H158.5 M152.5,182 V185 H154.5 V182 M154.5,183 V187.5 H158.5 V182" fill="none" stroke="#1e8cff" stroke-width="1"/>
<path d="M223.5,182 H229.5 M223.5,182 V185 H225.5 V182 M225.5,183 V187.5 H229.5 V182" fill="none" stroke="#1e8cff" stroke-width="1"/>
<path d="M159.5,182 H165.5 M159.5,182 V185 H161.5 V182 M161.5,183 V187.5 H165.5 V182" fill="none" stroke="#1e8cff" stroke-width="1"/>
<path d="M230.5,182 H236.5 M230.5,182 V185 H232.5 V182 M232.5,183 V187.5 H236.5 V182" fill="none" stroke="#1e8cff" stroke-width="1"/>
<path d="M166.5,182 H172.5 M166.5,182 V185 H168.5 V182 M168.5,183 V187.5 H172.5 V182" fill="none" stroke="#1e8cff" stroke-width="1"/>
<path d="M237.5,182 H243.5 M237.5,182 V185 H239.5 V182 M239.5,183 V187.5 H243.5 V182" fill="none" stroke="#1e8cff" stroke-width="1"/>
<path d="M173.5,182 H179.5 M173.5,182 V185 H175.5 V182 M175.5,183 V187.5 H179.5 V182" fill="none" stroke="#1e8cff" stroke-width="1"/>
<path d="M244.5,182 H250.5 M244.5,182 V185 H246.5 V182 M246.5,183 V187.5 H250.5 V182" fill="none" stroke="#1e8cff" stroke-width="1"/>
<path d="M180.5,182 H186.5 M180.5,182 V185 H182.5 V182 M182.5,183 V187.5 H186.5 V182" fill="none" stroke="#1e8cff" stroke-width="1"/>
<path d="M251.5,182 H257.5 M251.5,182 V185 H253.5 V182 M253.5,183 V187.5 H257.5 V182" fill="none" stroke="#1e8cff" stroke-width="1"/>
<path d="M187.5,182 H193.5 M187.5,182 V185 H189.5 V182 M189.5,183 V187.5 H193.5 V182" fill="none" stroke="#1e8cff" stroke-width="1"/>
<path d="M258.5,182 H264.5 M258.5,182 V185 H260.5 V182 M260.5,183 V187.5 H264.5 V182" fill="none" stroke="#1e8cff" stroke-width="1"/>
<path d="M194.5,182 H200.5 M194.5,182 V185 H196.5 V182 M196.5,183 V187.5 H200.5 V182" fill="none" stroke="#1e8cff" stroke-width="1"/>
<path d="M265.5,182 H271.5 M265.5,182 V185 H267.5 V182 M267.5,183 V187.5 H271.5 V182" fill="none" stroke="#1e8cff" stroke-width="1"/>
<path d="M201.5,182 H207.5 M201.5,182 V185 H203.5 V182 M203.5,183 V187.5 H207.5 V182" fill="none" stroke="#1e8cff" stroke-width="1"/>
<path d="M272.5,182 H278.5 M272.5,182 V185 H274.5 V182 M274.5,183 V187.5 H278.5 V182" fill="none" stroke="#1e8cff" stroke-width="1"/>
<path d="M208.5,182 H214.5 M208.5,182 V185 H210.5 V182 M210.5,183 V187.5 H214.5 V182" fill="none" stroke="#1e8cff" stroke-width="1"/>
<path d="M279.5,182 H285.5 M279.5,182 V185 H281.5 V182 M281.5,183 V187.5 H285.5 V182" fill="none" stroke="#1e8cff" stroke-width="1"/>
<path d="M152.5,191.5 H158.5 M152.5,191.5 V194.5 H154.5 V191.5 M154.5,192.5 V197 H158.5 V191.5" fill="none" stroke="#1e8cff" stroke-width="1"/>
<path d="M223.5,191.5 H229.5 M223.5,191.5 V194.5 H225.5 V191.5 M225.5,192.5 V197 H229.5 V191.5" fill="none" stroke="#1e8cff" stroke-width="1"/>
<path d="M159.5,191.5 H165.5 M159.5,191.5 V194.5 H161.5 V191.5 M161.5,192.5 V197 H165.5 V191.5" fill="none" stroke="#1e8cff" stroke-width="1"/>
<path d="M230.5,191.5 H236.5 M230.5,191.5 V194.5 H232.5 V191.5 M232.5,192.5 V197 H236.5 V191.5" fill="none" stroke="#1e8cff" stroke-width="1"/>
<path d="M166.5,191.5 H172.5 M166.5,191.5 V194.5 H168.5 V191.5 M168.5,192.5 V197 H172.5 V191.5" fill="none" stroke="#1e8cff" stroke-width="1"/>
<path d="M237.5,191.5 H243.5 M237.5,191.5 V194.5 H239.5 V191.5 M239.5,192.5 V197 H243.5 V191.5" fill="none" stroke="#1e8cff" stroke-width="1"/>
<path d="M173.5,191.5 H179.5 M173.5,191.5 V194.5 H175.5 V191.5 M175.5,192.5 V197 H179.5 V191.5" fill="none" stroke="#1e8cff" stroke-width="1"/>
<path d="M244.5,191.5 H250.5 M244.5,191.5 V194.5 H246.5 V191.5 M246.5,192.5 V197 H250.5 V191.5" fill="none" stroke="#1e8cff" stroke-width="1"/>
<path d="M180.5,191.5 H186.5 M180.5,191.5 V194.5 H182.5 V191.5 M182.5,192.5 V197 H186.5 V191.5" fill="none" stroke="#1e8cff" stroke-width="1"/>
<path d="M251.5,191.5 H257.5 M251.5,191.5 V194.5 H253.5 V191.5 M253.5,192.5 V197 H257.5 V191.5" fill="none" stroke="#1e8cff" stroke-width="1"/>
<path d="M187.5,191.5 H193.5 M187.5,191.5 V194.5 H189.5 V191.5 M189.5,192.5 V197 H193.5 V191.5" fill="none" stroke="#1e8cff" stroke-width="1"/>
<path d="M258.5,191.5 H264.5 M258.5,191.5 V194.5 H260.5 V191.5 M260.5,192.5 V197 H264.5 V191.5" fill="none" stroke="#1e8cff" stroke-width="1"/>
<path d="M194.5,191.5 H200.5 M194.5,191.5 V194.5 H196.5 V191.5 M196.5,192.5 V197 H200.5 V191.5" fill="none" stroke="#1e8cff" stroke-width="1"/>
<path d="M265.5,191.5 H271.5 M265.5,191.5 V194.5 H267.5 V191.5 M267.5,192.5 V197 H271.5 V191.5" fill="none" stroke="#1e8cff" stroke-width="1"/>
<path d="M201.5,191.5 H207.5 M201.5,191.5 V194.5 H203.5 V191.5 M203.5,192.5 V197 H207.5 V191.5" fill="none" stroke="#1e8cff" stroke-width="1"/>
<path d="M272.5,191.5 H278.5 M272.5,191.5 V194.5 H274.5 V191.5 M274.5,192.5 V197 H278.5 V191.5" fill="none" stroke="#1e8cff" stroke-width="1"/>
<path d="M208.5,191.5 H214.5 M208.5,191.5 V194.5 H210.5 V191.5 M210.5,192.5 V197 H214.5 V191.5" fill="none" stroke="#1e8cff" stroke-width="1"/>
<path d="M279.5,191.5 H285.5 M279.5,191.5 V194.5 H281.5 V191.5 M281.5,192.5 V197 H285.5 V191.5" fill="none" stroke="#1e8cff" stroke-width="1"/>
<path d="M152.5,201 H158.5 M152.5,201 V204 H154.5 V201 M154.5,202 V206.5 H158.5 V201" fill="none" stroke="#1e8cff" stroke-width="1"/>
<path d="M223.5,201 H229.5 M223.5,201 V204 H225.5 V201 M225.5,202 V206.5 H229.5 V201" fill="none" stroke="#1e8cff" stroke-width="1"/>
<path d="M159.5,201 H165.5 M159.5,201 V204 H161.5 V201 M161.5,202 V206.5 H165.5 V201" fill="none" stroke="#1e8cff" stroke-width="1"/>
<path d="M230.5,201 H236.5 M230.5,201 V204 H232.5 V201 M232.5,202 V206.5 H236.5 V201" fill="none" stroke="#1e8cff" stroke-width="1"/>
<path d="M166.5,201 H172.5 M166.5,201 V204 H168.5 V201 M168.5,202 V206.5 H172.5 V201" fill="none" stroke="#1e8cff" stroke-width="1"/>
<path d="M237.5,201 H243.5 M237.5,201 V204 H239.5 V201 M239.5,202 V206.5 H243.5 V201" fill="none" stroke="#1e8cff" stroke-width="1"/>
<path d="M173.5,201 H179.5 M173.5,201 V204 H175.5 V201 M175.5,202 V206.5 H179.5 V201" fill="none" stroke="#1e8cff" stroke-width="1"/>
<path d="M244.5,201 H250.5 M244.5,201 V204 H246.5 V201 M246.5,202 V206.5 H250.5 V201" fill="none" stroke="#1e8cff" stroke-width="1"/>
<path d="M180.5,201 H186.5 M180.5,201 V204 H182.5 V201 M182.5,202 V206.5 H186.5 V201" fill="none" stroke="#1e8cff" stroke-width="1"/>
<path d="M251.5,201 H257.5 M251.5,201 V204 H253.5 V201 M253.5,202 V206.5 H257.5 V201" fill="none" stroke="#1e8cff" stroke-width="1"/>
<path d="M187.5,201 H193.5 M187.5,201 V204 H189.5 V201 M189.5,202 V206.5 H193.5 V201" fill="none" stroke="#1e8cff" stroke-width="1"/>
<path d="M258.5,201 H264.5 M258.5,201 V204 H260.5 V201 M260.5,202 V206.5 H264.5 V201" fill="none" stroke="#1e8cff" stroke-width="1"/>
<path d="M194.5,201 H200.5 M194.5,201 V204 H196.5 V201 M196.5,202 V206.5 H200.5 V201" fill="none" stroke="#1e8cff" stroke-width="1"/>
<path d="M265.5,201 H271.5 M265.5,201 V204 H267.5 V201 M267.5,202 V206.5 H271.5 V201" fill="none" stroke="#1e8cff" stroke-width="1"/>
<path d="M201.5,201 H207.5 M201.5,201 V204 H203.5 V201 M203.5,202 V206.5 H207.5 V201" fill="none" stroke="#1e8cff" stroke-width="1"/>
<path d="M272.5,201 H278.5 M272.5,201 V204 H274.5 V201 M274.5,202 V206.5 H278.5 V201" fill="none" stroke="#1e8cff" stroke-width="1"/>
<path d="M208.5,201 H214.5 M208.5,201 V204 H210.5 V201 M210.5,202 V206.5 H214.5 V201" fill="none" stroke="#1e8cff" stroke-width="1"/>
<path d="M279.5,201 H285.5 M279.5,201 V204 H281.5 V201 M281.5,202 V206.5 H285.5 V201" fill="none" stroke="#1e8cff" stroke-width="1"/>
<path d="M152.5,210.5 H158.5 M152.5,210.5 V213.5 H154.5 V210.5 M154.5,211.5 V216 H158.5 V210.5" fill="none" stroke="#1e8cff" stroke-width="1"/>
<path d="M223.5,210.5 H229.5 M223.5,210.5 V213.5 H225.5 V210.5 M225.5,211.5 V216 H229.5 V210.5" fill="none" stroke="#1e8cff" stroke-width="1"/>
<path d="M159.5,210.5 H165.5 M159.5,210.5 V213.5 H161.5 V210.5 M161.5,211.5 V216 H165.5 V210.5" fill="none" stroke="#1e8cff" stroke-width="1"/>
<path d="M230.5,210.5 H236.5 M230.5,210.5 V213.5 H232.5 V210.5 M232.5,211.5 V216 H236.5 V210.5" fill="none" stroke="#1e8cff" stroke-width="1"/>
<path d="M166.5,210.5 H172.5 M166.5,210.5 V213.5 H168.5 V210.5 M168.5,211.5 V216 H172.5 V210.5" fill="none" stroke="#1e8cff" stroke-width="1"/>
<path d="M237.5,210.5 H243.5 M237.5,210.5 V213.5 H239.5 V210.5 M239.5,211.5 V216 H243.5 V210.5" fill="none" stroke="#1e8cff" stroke-width="1"/>
<path d="M173.5,210.5 H179.5 M173.5,210.5 V213.5 H175.5 V210.5 M175.5,211.5 V216 H179.5 V210.5" fill="none" stroke="#1e8cff" stroke-width="1"/>
<path d="M244.5,210.5 H250.5 M244.5,210.5 V213.5 H246.5 V210.5 M246.5,211.5 V216 H250.5 V210.5" fill="none" stroke="#1e8cff" stroke-width="1"/>
<path d="M180.5,210.5 H186.5 M180.5,210.5 V213.5 H182.5 V210.5 M182.5,211.5 V216 H186.5 V210.5" fill="none" stroke="#1e8cff" stroke-width="1"/>
<path d="M251.5,210.5 H257.5 M251.5,210.5 V213.5 H253.5 V210.5 M253.5,211.5 V216 H257.5 V210.5" fill="none" stroke="#1e8cff" stroke-width="1"/>
<path d="M187.5,210.5 H193.5 M187.5,210.5 V213.5 H189.5 V210.5 M189.5,211.5 V216 H193.5 V210.5" fill="none" stroke="#1e8cff" stroke-width="1"/>
<path d="M258.5,210.5 H264.5 M258.5,210.5 V213.5 H260.5 V210.5 M260.5,211.5 V216 H264.5 V210.5" fill="none" stroke="#1e8cff" stroke-width="1"/>
<path d="M194.5,210.5 H200.5 M194.5,210.5 V213.5 H196.5 V210.5 M196.5,211.5 V216 H200.5 V210.5" fill="none" stroke="#1e8cff" stroke-width="1"/>
<path d="M265.5,210.5 H271.5 M265.5,210.5 V213.5 H267.5 V210.5 M267.5,211.5 V216 H271.5 V210.5" fill="none" stroke="#1e8cff" stroke-width="1"/>
<path d="M201.5,210.5 H207.5 M201.5,210.5 V213.5 H203.5 V210.5 M203.5,211.5 V216 H207.5 V210.5" fill="none" stroke="#1e8cff" stroke-width="1"/>
<path d="M272.5,210.5 H278.5 M272.5,210.5 V213.5 H274.5 V210.5 M274.5,211.5 V216 H278.5 V210.5" fill="none" stroke="#1e8cff" stroke-width="1"/>
<path d="M208.5,210.5 H214.5 M208.5,210.5 V213.5 H210.5 V210.5 M210.5,211.5 V216 H214.5 V210.5" fill="none" stroke="#1e8cff" stroke-width="1"/>
<path d="M279.5,210.5 H285.5 M279.5,210.5 V213.5 H281.5 V210.5 M281.5,211.5 V216 H285.5 V210.5" fill="none" stroke="#1e8cff" stroke-width="1"/>
<rect x="207" y="143.6" width="25" height="3" fill="#ffff00" stroke="none" stroke-width="1" />
<rect x="205" y="168" width="35" height="3.5" fill="#ffff00" stroke="none" stroke-width="1" />
<polygon points="210,166 234,166 228,162 221,158 216,162" fill="#a8a8a8" stroke="none" stroke-width="1" />
<rect x="217" y="172" width="12" height="3" fill="#ffff00" stroke="none" stroke-width="1" />
<rect x="296" y="148" width="8" height="38" fill="none" stroke="#ff00ff" stroke-width="1.2" />
<line x1="300" y1="148" x2="300" y2="186" stroke="#ffff00" stroke-width="1" />
<path d="M151,96.3 Q131,103 133.6,115.6" fill="none" stroke="#d0d0d0" stroke-width="0.9"/>
<path d="M133.6,216.8 Q152,222 152,237" fill="none" stroke="#d0d0d0" stroke-width="0.9"/>
<path d="M290,112 Q276,98 296,96" fill="none" stroke="#d0d0d0" stroke-width="0.9"/>
<path d="M289,218 Q301,222 304,232" fill="none" stroke="#d0d0d0" stroke-width="0.9"/>
<rect x="147" y="101" width="3" height="3" fill="#ffff00" stroke="none" stroke-width="1" />
<rect x="148" y="228" width="3" height="3" fill="#ffff00" stroke="none" stroke-width="1" />
<rect x="136.2" y="231.3" width="13.5" height="2.2" fill="#a8a8a8" stroke="none" stroke-width="1" />
<rect x="283" y="231.3" width="14" height="2.2" fill="#a8a8a8" stroke="none" stroke-width="1" />
<rect x="83.8" y="231.3" width="24.2" height="6" fill="#a8a8a8" stroke="none" stroke-width="1" />
<line x1="85" y1="225.7" x2="116.4" y2="225.7" stroke="#00ff00" stroke-width="1.4" />
<line x1="82.6" y1="237" x2="82.6" y2="270" stroke="#a8a8a8" stroke-width="1" />
<line x1="94.7" y1="237" x2="94.7" y2="270" stroke="#a8a8a8" stroke-width="1" />
<rect x="225.4" y="249.5" width="24.2" height="2.5" fill="#a8a8a8" stroke="none" stroke-width="1" />
<rect x="235" y="247" width="3" height="3" fill="#a8a8a8" stroke="none" stroke-width="1" />
<line x1="222.5" y1="254" x2="255" y2="254" stroke="#ffff00" stroke-width="1.2" />
<rect x="226" y="256" width="20" height="2" fill="#ffff00" stroke="none" stroke-width="1" />
<rect x="166.5" y="265" width="9.3" height="2.6" fill="#ffff00" stroke="none" stroke-width="1" />
<rect x="207" y="266.5" width="20.4" height="2.5" fill="#ffb000" stroke="none" stroke-width="1" />
<line x1="178.5" y1="50" x2="178.5" y2="80" stroke="#ff00ff" stroke-width="1" stroke-dasharray="5,2,1,2"/>
<line x1="178.5" y1="100" x2="178.5" y2="118" stroke="#ff00ff" stroke-width="1" stroke-dasharray="5,2,1,2"/>
<line x1="178.5" y1="240" x2="178.5" y2="300" stroke="#ff00ff" stroke-width="1" stroke-dasharray="5,2,1,2"/>
<line x1="178.5" y1="212" x2="178.5" y2="222" stroke="#ff00ff" stroke-width="1" stroke-dasharray="5,2,1,2"/>
<line x1="257.5" y1="50" x2="257.5" y2="80" stroke="#ff00ff" stroke-width="1" stroke-dasharray="5,2,1,2"/>
<line x1="257.5" y1="100" x2="257.5" y2="118" stroke="#ff00ff" stroke-width="1" stroke-dasharray="5,2,1,2"/>
<line x1="257.5" y1="240" x2="257.5" y2="300" stroke="#ff00ff" stroke-width="1" stroke-dasharray="5,2,1,2"/>
<line x1="257.5" y1="212" x2="257.5" y2="222" stroke="#ff00ff" stroke-width="1" stroke-dasharray="5,2,1,2"/>
<polygon points="178,52 174,59.5 178,67" fill="#ffff00" stroke="none" stroke-width="1" />
<text x="179.7" y="62.5" font-size="9.5" fill="#ffff00" font-family="Liberation Sans" font-weight="bold" stroke="#ffff00" stroke-width="0.4">A</text>
<polygon points="258,50 262,57.5 258,65" fill="#ffff00" stroke="none" stroke-width="1" />
<text x="249" y="60.5" font-size="9.5" fill="#ffff00" font-family="Liberation Sans" font-weight="bold" stroke="#ffff00" stroke-width="0.4">B</text>
<polygon points="178,284.5 174,292 178,299.5" fill="#ffff00" stroke="none" stroke-width="1" />
<text x="179.7" y="295" font-size="9.5" fill="#ffff00" font-family="Liberation Sans" font-weight="bold" stroke="#ffff00" stroke-width="0.4">A</text>
<polygon points="258,284.5 262,292 258,299.5" fill="#ffff00" stroke="none" stroke-width="1" />
<text x="249" y="295" font-size="9.5" fill="#ffff00" font-family="Liberation Sans" font-weight="bold" stroke="#ffff00" stroke-width="0.4">B</text>
<circle cx="286.3" cy="57.5" r="4.8" fill="#000" stroke="#ff0000" stroke-width="1.6" shape-rendering="geometricPrecision"/>
<polyline points="278.8,58.5 286.3,65.5 293.8,58.5" fill="none" stroke="#ff0000" stroke-width="1.6" shape-rendering="geometricPrecision"/>
<rect x="283.3" y="56" width="6" height="3" fill="#ffff00" stroke="none" stroke-width="1" />
<line x1="284.3" y1="54.5" x2="284.3" y2="60.5" stroke="#ffff00" stroke-width="1.2" />
<line x1="288.3" y1="54.5" x2="288.3" y2="60.5" stroke="#ffff00" stroke-width="1.2" />
<circle cx="199.3" cy="295" r="4.8" fill="#000" stroke="#ff0000" stroke-width="1.6" shape-rendering="geometricPrecision"/>
<polyline points="191.8,294 199.3,287 206.8,294" fill="none" stroke="#ff0000" stroke-width="1.6" shape-rendering="geometricPrecision"/>
<rect x="196.3" y="293.5" width="6" height="3" fill="#ffff00" stroke="none" stroke-width="1" />
<line x1="197.3" y1="292" x2="197.3" y2="298" stroke="#ffff00" stroke-width="1.2" />
<line x1="201.3" y1="292" x2="201.3" y2="298" stroke="#ffff00" stroke-width="1.2" />
<line x1="305.2" y1="56.2" x2="395.1" y2="67.8" stroke="#ff0000" stroke-width="1" />
<line x1="337.1" y1="50.4" x2="337.1" y2="67.2" stroke="#ff0000" stroke-width="1" />
<line x1="316.4" y1="57.6" x2="316.4" y2="91.4" stroke="#00ff00" stroke-width="1" />
<line x1="318.8" y1="57.6" x2="318.8" y2="91.4" stroke="#00ff00" stroke-width="1" />
<line x1="359.3" y1="63.4" x2="359.3" y2="90.4" stroke="#00ff00" stroke-width="1" />
<rect x="280.1" y="69.2" width="22.8" height="2.5" fill="#a8a8a8" stroke="none" stroke-width="1" />
<rect x="330.7" y="69.2" width="10.3" height="1.8" fill="#a8a8a8" stroke="none" stroke-width="1" />
<rect x="335.2" y="91.8" width="10.6" height="3.1" fill="#a8a8a8" stroke="none" stroke-width="1" />
<pattern id="hatch" width="3.3" height="3.3" patternUnits="userSpaceOnUse"><path d="M0,0.5 H3.3 M0.5,0 V3.3" stroke="#c8c000" stroke-width="1"/></pattern>
<rect x="321" y="102" width="37" height="26" fill="url(#hatch)" stroke="none" stroke-width="1" />
<rect x="321" y="139" width="37" height="17" fill="url(#hatch)" stroke="none" stroke-width="1" />
<rect x="321" y="190" width="37" height="42" fill="url(#hatch)" stroke="none" stroke-width="1" />
<rect x="321" y="157" width="37" height="32" fill="url(#hatch)" stroke="none" stroke-width="1" />
<rect x="318.9" y="100.5" width="41" height="133" fill="none" stroke="#ff00ff" stroke-width="2.2" />
<line x1="318.9" y1="130.7" x2="359.9" y2="130.7" stroke="#ff00ff" stroke-width="1.6" />
<line x1="318.9" y1="137.5" x2="359.9" y2="137.5" stroke="#ff00ff" stroke-width="1.6" />
<line x1="318.9" y1="156.5" x2="359.9" y2="156.5" stroke="#ff00ff" stroke-width="1.6" />
<line x1="318.9" y1="189.5" x2="359.9" y2="189.5" stroke="#ff00ff" stroke-width="1.6" />
<line x1="318.9" y1="194.5" x2="359.9" y2="194.5" stroke="#ff00ff" stroke-width="1.6" />
<line x1="321" y1="128.3" x2="358" y2="128.3" stroke="#ff0000" stroke-width="1" />
<circle cx="328.2" cy="134.2" r="2" fill="none" stroke="#ddd" stroke-width="0.8"/>
<circle cx="335.2" cy="134.2" r="2" fill="none" stroke="#ddd" stroke-width="0.8"/>
<circle cx="342.3" cy="134.2" r="2" fill="none" stroke="#ddd" stroke-width="0.8"/>
<circle cx="349.2" cy="134.2" r="2" fill="none" stroke="#ddd" stroke-width="0.8"/>
<polygon points="328.5,113.5 355,113.5 355,116.5 345,116.5 333,122 335,116.5 328.5,116.5" fill="#ffff00" stroke="none" stroke-width="1" />
<rect x="353" y="112.2" width="5" height="8.7" fill="#00ff00" stroke="none" stroke-width="1" />
<line x1="337" y1="125.8" x2="364" y2="95" stroke="#ff0000" stroke-width="0.8" />
<line x1="328.8" y1="158" x2="328.8" y2="188" stroke="#00ff00" stroke-width="1.8" />
<line x1="338.8" y1="158" x2="338.8" y2="188" stroke="#00ff00" stroke-width="1.8" />
<line x1="348.5" y1="158" x2="348.5" y2="188" stroke="#00ff00" stroke-width="1.8" />
<line x1="357.6" y1="158" x2="357.6" y2="188" stroke="#00ff00" stroke-width="1.8" />
<ellipse cx="333.5" cy="164" rx="2.4" ry="4" fill="none" stroke="#e8e8a0" stroke-width="0.9"/>
<ellipse cx="333.5" cy="180" rx="2.4" ry="4" fill="none" stroke="#e8e8a0" stroke-width="0.9"/>
<ellipse cx="343.5" cy="164" rx="2.4" ry="4" fill="none" stroke="#e8e8a0" stroke-width="0.9"/>
<ellipse cx="343.5" cy="180" rx="2.4" ry="4" fill="none" stroke="#e8e8a0" stroke-width="0.9"/>
<ellipse cx="353" cy="164" rx="2.4" ry="4" fill="none" stroke="#e8e8a0" stroke-width="0.9"/>
<ellipse cx="353" cy="180" rx="2.4" ry="4" fill="none" stroke="#e8e8a0" stroke-width="0.9"/>
<rect x="322" y="158" width="36" height="3" fill="#d8d800" stroke="none" stroke-width="1" />
<rect x="327" y="145" width="28" height="4" fill="#ffff00" stroke="none" stroke-width="1" />
<polygon points="335,139 345,139 340,134" fill="#a8a8a8" stroke="none" stroke-width="1" />
<rect x="327" y="210" width="28" height="5" fill="#ffff00" stroke="none" stroke-width="1" />
<polygon points="335,205 345,205 340,198" fill="#a8a8a8" stroke="none" stroke-width="1" />
<rect x="319" y="200" width="5" height="26" fill="none" stroke="#d8d8d8" stroke-width="0.8" />
<circle cx="321.5" cy="205" r="1.7" fill="none" stroke="#ddd" stroke-width="0.7"/>
<circle cx="321.5" cy="212" r="1.7" fill="none" stroke="#ddd" stroke-width="0.7"/>
<circle cx="321.5" cy="219" r="1.7" fill="none" stroke="#ddd" stroke-width="0.7"/>
<rect x="362" y="104" width="3" height="3" fill="#ffff00" stroke="none" stroke-width="1" />
<rect x="362" y="111" width="3" height="3" fill="#ffff00" stroke="none" stroke-width="1" />
<rect x="362" y="118" width="3" height="3" fill="#ffff00" stroke="none" stroke-width="1" />
<rect x="362" y="125" width="3" height="3" fill="#ffff00" stroke="none" stroke-width="1" />
<rect x="362" y="132" width="3" height="3" fill="#ffff00" stroke="none" stroke-width="1" />
<rect x="362" y="139" width="3" height="3" fill="#ffff00" stroke="none" stroke-width="1" />
<rect x="362" y="146" width="3" height="3" fill="#ffff00" stroke="none" stroke-width="1" />
<rect x="362" y="153" width="3" height="3" fill="#ffff00" stroke="none" stroke-width="1" />
<rect x="362" y="160" width="3" height="3" fill="#ffff00" stroke="none" stroke-width="1" />
<rect x="362" y="167" width="3" height="3" fill="#ffff00" stroke="none" stroke-width="1" />
<rect x="362" y="174" width="3" height="3" fill="#ffff00" stroke="none" stroke-width="1" />
<rect x="362" y="181" width="3" height="3" fill="#ffff00" stroke="none" stroke-width="1" />
<rect x="362" y="188" width="3" height="3" fill="#ffff00" stroke="none" stroke-width="1" />
<rect x="362" y="195" width="3" height="3" fill="#ffff00" stroke="none" stroke-width="1" />
<rect x="362" y="202" width="3" height="3" fill="#ffff00" stroke="none" stroke-width="1" />
<rect x="362" y="209" width="3" height="3" fill="#ffff00" stroke="none" stroke-width="1" />
<rect x="362" y="216" width="3" height="3" fill="#ffff00" stroke="none" stroke-width="1" />
<rect x="362" y="223" width="3" height="3" fill="#ffff00" stroke="none" stroke-width="1" />
<rect x="362" y="230" width="3" height="3" fill="#ffff00" stroke="none" stroke-width="1" />
<rect x="314" y="106" width="2.5" height="2.5" fill="#ffff00" stroke="none" stroke-width="1" />
<rect x="314" y="115" width="2.5" height="2.5" fill="#ffff00" stroke="none" stroke-width="1" />
<rect x="314" y="124" width="2.5" height="2.5" fill="#ffff00" stroke="none" stroke-width="1" />
<rect x="314" y="133" width="2.5" height="2.5" fill="#ffff00" stroke="none" stroke-width="1" />
<rect x="314" y="142" width="2.5" height="2.5" fill="#ffff00" stroke="none" stroke-width="1" />
<rect x="314" y="151" width="2.5" height="2.5" fill="#ffff00" stroke="none" stroke-width="1" />
<rect x="314" y="160" width="2.5" height="2.5" fill="#ffff00" stroke="none" stroke-width="1" />
<rect x="314" y="169" width="2.5" height="2.5" fill="#ffff00" stroke="none" stroke-width="1" />
<rect x="314" y="178" width="2.5" height="2.5" fill="#ffff00" stroke="none" stroke-width="1" />
<rect x="314" y="187" width="2.5" height="2.5" fill="#ffff00" stroke="none" stroke-width="1" />
<rect x="314" y="196" width="2.5" height="2.5" fill="#ffff00" stroke="none" stroke-width="1" />
<rect x="314" y="205" width="2.5" height="2.5" fill="#ffff00" stroke="none" stroke-width="1" />
<rect x="314" y="214" width="2.5" height="2.5" fill="#ffff00" stroke="none" stroke-width="1" />
<rect x="314" y="223" width="2.5" height="2.5" fill="#ffff00" stroke="none" stroke-width="1" />
<path d="M326,114 A8,8 0 0 1 318,122" fill="none" stroke="#d0d0d0" stroke-width="0.8"/>
<path d="M326,206 A8,8 0 0 0 318,198" fill="none" stroke="#d0d0d0" stroke-width="0.8"/>
<line x1="322" y1="113" x2="328" y2="120" stroke="#00ffff" stroke-width="1" />
<line x1="322" y1="205" x2="328" y2="198" stroke="#00ffff" stroke-width="1" />
<pattern id="roof" width="3" height="10" patternUnits="userSpaceOnUse"><rect width="3" height="10" fill="#686068"/><rect x="2" width="1" height="10" fill="#000"/></pattern>
<polygon points="548,56.5 508.9,95.7 581.7,95.7" fill="url(#roof)" stroke="#857a85" stroke-width="0.8" />
<line x1="538.5" y1="73" x2="538.5" y2="80.5" stroke="#d8a000" stroke-width="1.2" />
<line x1="541.5" y1="73" x2="541.5" y2="80.5" stroke="#d8a000" stroke-width="1.2" />
<line x1="544.5" y1="73" x2="544.5" y2="80.5" stroke="#d8a000" stroke-width="1.2" />
<line x1="547.5" y1="73" x2="547.5" y2="80.5" stroke="#d8a000" stroke-width="1.2" />
<line x1="550.5" y1="73" x2="550.5" y2="80.5" stroke="#d8a000" stroke-width="1.2" />
<line x1="553.5" y1="73" x2="553.5" y2="80.5" stroke="#d8a000" stroke-width="1.2" />
<line x1="556.5" y1="73" x2="556.5" y2="80.5" stroke="#d8a000" stroke-width="1.2" />
<line x1="559.5" y1="73" x2="559.5" y2="80.5" stroke="#d8a000" stroke-width="1.2" />
<line x1="562.5" y1="73" x2="562.5" y2="80.5" stroke="#d8a000" stroke-width="1.2" />
<line x1="565.5" y1="73" x2="565.5" y2="80.5" stroke="#d8a000" stroke-width="1.2" />
<line x1="538" y1="77.5" x2="570" y2="77.5" stroke="#ffd000" stroke-width="1" stroke-dasharray="1,2"/>
<line x1="529" y1="84.5" x2="537" y2="77.5" stroke="#ffd000" stroke-width="1" stroke-dasharray="1,2"/>
<polygon points="470.7,133 512.3,93.8 514,98.5 477,133" fill="#1a2a26" stroke="none" stroke-width="1" />
<line x1="470.7" y1="133" x2="512.3" y2="93.8" stroke="#7a6a7a" stroke-width="2.2" />
<line x1="470.7" y1="133" x2="512.3" y2="93.8" stroke="#3f8f7f" stroke-width="1.2" />
<line x1="477" y1="133" x2="514" y2="98.5" stroke="#3f8f7f" stroke-width="1.3" />
<polyline points="470.7,133 480.36,129.86 478.26,125.87 487.09,123.59 485.83,118.75 493.82,117.32 493.39,111.62 500.55,111.05 500.95,104.49 507.27,104.77 508.52,97.36 514,98.5" fill="none" stroke="#3f8f7f" stroke-width="0.9" />
<polygon points="625.3,133 583.7,93.8 582,98.5 619,133" fill="#1a2a26" stroke="none" stroke-width="1" />
<line x1="625.3" y1="133" x2="583.7" y2="93.8" stroke="#7a6a7a" stroke-width="2.2" />
<line x1="625.3" y1="133" x2="583.7" y2="93.8" stroke="#3f8f7f" stroke-width="1.2" />
<line x1="619" y1="133" x2="582" y2="98.5" stroke="#3f8f7f" stroke-width="1.3" />
<polyline points="625.3,133 615.64,129.86 617.74,125.87 608.91,123.59 610.17,118.75 602.18,117.32 602.61,111.62 595.45,111.05 595.05,104.49 588.73,104.77 587.48,97.36 582,98.5" fill="none" stroke="#3f8f7f" stroke-width="0.9" />
<line x1="512" y1="96" x2="584" y2="96" stroke="#3f8f7f" stroke-width="1.4" />
<line x1="470.7" y1="133" x2="509" y2="133" stroke="#3f8f7f" stroke-width="1.5" />
<line x1="586" y1="133" x2="625" y2="133" stroke="#3f8f7f" stroke-width="1.5" />
<polyline points="621,133 651,140.8 651,170" fill="none" stroke="#3f8f7f" stroke-width="1.5" />
<rect x="525.6" y="96.7" width="43.7" height="10.5" fill="none" stroke="#3f8f7f" stroke-width="1.5" />
<line x1="509.6" y1="107.6" x2="586" y2="107.6" stroke="#d0d0d0" stroke-width="1" />
<line x1="525.3" y1="107" x2="525.3" y2="169" stroke="#d0d0d0" stroke-width="1" />
<line x1="569.7" y1="107" x2="569.7" y2="169" stroke="#d0d0d0" stroke-width="1" />
<line x1="508.9" y1="96" x2="508.9" y2="169.4" stroke="#ff0000" stroke-width="1.3" />
<line x1="586.4" y1="96" x2="586.4" y2="169.4" stroke="#ff0000" stroke-width="1.3" />
<line x1="489.4" y1="120" x2="489.4" y2="169.4" stroke="#ff0000" stroke-width="1.3" />
<line x1="483" y1="133" x2="483" y2="169.4" stroke="#ff0000" stroke-width="1.3" />
<line x1="499.2" y1="143" x2="499.2" y2="169.4" stroke="#ff0000" stroke-width="1.3" />
<line x1="595.6" y1="143" x2="595.6" y2="169.4" stroke="#ff0000" stroke-width="1.3" />
<line x1="606.7" y1="120" x2="606.7" y2="169.4" stroke="#ff0000" stroke-width="1.3" />
<line x1="612.8" y1="133" x2="612.8" y2="169.4" stroke="#ff0000" stroke-width="1.3" />
<line x1="489" y1="145.6" x2="509" y2="145.6" stroke="#ff0000" stroke-width="1" />
<line x1="586" y1="145.6" x2="607" y2="145.6" stroke="#ff0000" stroke-width="1" />
<line x1="465" y1="171.4" x2="662" y2="171.4" stroke="#ff00ff" stroke-width="1.4" />
<line x1="481.7" y1="169.4" x2="651" y2="169.4" stroke="#ffff00" stroke-width="1" />
<rect x="500.6" y="138" width="19.4" height="2" fill="url(#txt)"/>
<line x1="500.1" y1="140.5" x2="521" y2="140.5" stroke="#ffff00" stroke-width="1" />
<rect x="505.45" y="141.5" width="9.7" height="1.5" fill="url(#txt)"/>
<line x1="500.1" y1="140.5" x2="494" y2="145" stroke="#ffff00" stroke-width="0.9" />
<rect x="493" y="144" width="2" height="2" fill="#ffff00" stroke="none" stroke-width="1" />
<rect x="545.5" y="134" width="20" height="2" fill="url(#txt)"/>
<line x1="545" y1="136.5" x2="566.5" y2="136.5" stroke="#ffff00" stroke-width="1" />
<rect x="550.5" y="137.5" width="10" height="1.5" fill="url(#txt)"/>
<line x1="545" y1="136.5" x2="538" y2="142" stroke="#ffff00" stroke-width="0.9" />
<rect x="537" y="141" width="2" height="2" fill="#ffff00" stroke="none" stroke-width="1" />
<rect x="597" y="138.5" width="19.4" height="2" fill="url(#txt)"/>
<line x1="596.5" y1="141" x2="617.4" y2="141" stroke="#ffff00" stroke-width="1" />
<rect x="601.85" y="142" width="9.7" height="1.5" fill="url(#txt)"/>
<line x1="596.5" y1="141" x2="591" y2="145" stroke="#ffff00" stroke-width="0.9" />
<rect x="590" y="144" width="2" height="2" fill="#ffff00" stroke="none" stroke-width="1" />
<rect x="638.6" y="122.5" width="31" height="4" fill="url(#txt)"/>
<line x1="638" y1="127.5" x2="671" y2="127.5" stroke="#ffff00" stroke-width="1" />
<line x1="638" y1="127.5" x2="630" y2="135" stroke="#ffff00" stroke-width="0.9" />
<line x1="447" y1="132.5" x2="469" y2="132.5" stroke="#ff0000" stroke-width="1" stroke-dasharray="4,2"/>
<line x1="452.5" y1="127.5" x2="452.5" y2="133.5" stroke="#e0e0e0" stroke-width="1" />
<line x1="450.5" y1="128" x2="462" y2="128" stroke="#d0c8d0" stroke-width="1" stroke-dasharray="2,1"/>
<line x1="450.5" y1="131" x2="454.5" y2="131" stroke="#e0e0e0" stroke-width="1" />
<line x1="447" y1="171.4" x2="469" y2="171.4" stroke="#ff0000" stroke-width="1" stroke-dasharray="4,2"/>
<line x1="452.5" y1="166.4" x2="452.5" y2="172.4" stroke="#e0e0e0" stroke-width="1" />
<line x1="450.5" y1="166.9" x2="462" y2="166.9" stroke="#d0c8d0" stroke-width="1" stroke-dasharray="2,1"/>
<line x1="450.5" y1="169.9" x2="454.5" y2="169.9" stroke="#e0e0e0" stroke-width="1" />
<line x1="447" y1="182.5" x2="469" y2="182.5" stroke="#ff0000" stroke-width="1" stroke-dasharray="4,2"/>
<line x1="452.5" y1="177.5" x2="452.5" y2="183.5" stroke="#e0e0e0" stroke-width="1" />
<line x1="450.5" y1="178" x2="462" y2="178" stroke="#d0c8d0" stroke-width="1" stroke-dasharray="2,1"/>
<line x1="450.5" y1="181" x2="454.5" y2="181" stroke="#e0e0e0" stroke-width="1" />
<rect x="455" y="180" width="13" height="3" fill="#ffff00" stroke="none" stroke-width="1" />
<line x1="663" y1="140.2" x2="689" y2="140.2" stroke="#ff0000" stroke-width="1" stroke-dasharray="4,2"/>
<line x1="677.5" y1="135.2" x2="677.5" y2="141.2" stroke="#e0e0e0" stroke-width="1" />
<line x1="675.5" y1="135.7" x2="687" y2="135.7" stroke="#d0c8d0" stroke-width="1" stroke-dasharray="2,1"/>
<line x1="675.5" y1="138.7" x2="679.5" y2="138.7" stroke="#e0e0e0" stroke-width="1" />
<line x1="663" y1="171.4" x2="689" y2="171.4" stroke="#ff0000" stroke-width="1" stroke-dasharray="4,2"/>
<line x1="677.5" y1="166.4" x2="677.5" y2="172.4" stroke="#e0e0e0" stroke-width="1" />
<line x1="675.5" y1="166.9" x2="687" y2="166.9" stroke="#d0c8d0" stroke-width="1" stroke-dasharray="2,1"/>
<line x1="675.5" y1="169.9" x2="679.5" y2="169.9" stroke="#e0e0e0" stroke-width="1" />
<line x1="489.4" y1="172" x2="489.4" y2="179" stroke="#d9a300" stroke-width="1" stroke-dasharray="2,1"/>
<circle cx="489.4" cy="183.3" r="3.1" fill="#c88400" stroke="#00ffff" stroke-width="1.1" shape-rendering="geometricPrecision"/>
<line x1="606" y1="172" x2="606" y2="179" stroke="#d9a300" stroke-width="1" stroke-dasharray="2,1"/>
<circle cx="606" cy="183.3" r="3.1" fill="#c88400" stroke="#00ffff" stroke-width="1.1" shape-rendering="geometricPrecision"/>
<line x1="649.7" y1="172" x2="649.7" y2="179" stroke="#d9a300" stroke-width="1" stroke-dasharray="2,1"/>
<circle cx="649.7" cy="183.3" r="3.1" fill="#c88400" stroke="#00ffff" stroke-width="1.1" shape-rendering="geometricPrecision"/>
<polygon points="563,205.4 606.5,205.4 660.9,258.7 506.5,258.7" fill="url(#roof)" stroke="#857a85" stroke-width="0.8" />
<line x1="585.5" y1="225" x2="585.5" y2="232.5" stroke="#d8a000" stroke-width="1.2" />
<line x1="588.5" y1="225" x2="588.5" y2="232.5" stroke="#d8a000" stroke-width="1.2" />
<line x1="591.5" y1="225" x2="591.5" y2="232.5" stroke="#d8a000" stroke-width="1.2" />
<line x1="594.5" y1="225" x2="594.5" y2="232.5" stroke="#d8a000" stroke-width="1.2" />
<line x1="597.5" y1="225" x2="597.5" y2="232.5" stroke="#d8a000" stroke-width="1.2" />
<line x1="600.5" y1="225" x2="600.5" y2="232.5" stroke="#d8a000" stroke-width="1.2" />
<line x1="603.5" y1="225" x2="603.5" y2="232.5" stroke="#d8a000" stroke-width="1.2" />
<line x1="606.5" y1="225" x2="606.5" y2="232.5" stroke="#d8a000" stroke-width="1.2" />
<line x1="609.5" y1="225" x2="609.5" y2="232.5" stroke="#d8a000" stroke-width="1.2" />
<line x1="612.5" y1="225" x2="612.5" y2="232.5" stroke="#d8a000" stroke-width="1.2" />
<line x1="585" y1="229.5" x2="617" y2="229.5" stroke="#ffd000" stroke-width="1" stroke-dasharray="1,2"/>
<line x1="576" y1="236.5" x2="584" y2="229.5" stroke="#ffd000" stroke-width="1" stroke-dasharray="1,2"/>
<polygon points="584.3,183.3 563,205.4 606.5,205.4" fill="none" stroke="#3f8f7f" stroke-width="1.4" />
<polygon points="584.3,187.5 572.8,195.7 585.5,204 595.7,195.7" fill="none" stroke="#3f8f7f" stroke-width="1" />
<polyline points="508,258.8 480,268.4 482,268.4 482,295" fill="none" stroke="#3f8f7f" stroke-width="1.4" />
<line x1="506" y1="258.8" x2="661.7" y2="258.8" stroke="#b8b8b8" stroke-width="1" />
<line x1="518.3" y1="259" x2="518.3" y2="295" stroke="#ff0000" stroke-width="1.3" />
<line x1="530.4" y1="259" x2="530.4" y2="295" stroke="#ff0000" stroke-width="1.3" />
<line x1="638.6" y1="259" x2="638.6" y2="295" stroke="#ff0000" stroke-width="1.3" />
<line x1="649.3" y1="259" x2="649.3" y2="295" stroke="#ff0000" stroke-width="1.3" />
<line x1="530.4" y1="260.9" x2="638.6" y2="260.9" stroke="#ff0000" stroke-width="1.3" />
<line x1="530.4" y1="270.4" x2="638.6" y2="270.4" stroke="#ff0000" stroke-width="1.3" />
<line x1="541.4" y1="261" x2="541.4" y2="270.4" stroke="#ff0000" stroke-width="1" />
<line x1="553" y1="261" x2="553" y2="270.4" stroke="#ff0000" stroke-width="1" />
<line x1="564.6" y1="261" x2="564.6" y2="270.4" stroke="#ff0000" stroke-width="1" />
<line x1="587.8" y1="261" x2="587.8" y2="270.4" stroke="#ff0000" stroke-width="1" />
<line x1="598" y1="261" x2="598" y2="270.4" stroke="#ff0000" stroke-width="1" />
<line x1="608" y1="261" x2="608" y2="270.4" stroke="#ff0000" stroke-width="1" />
<line x1="629.9" y1="261" x2="629.9" y2="270.4" stroke="#ff0000" stroke-width="1" />
<line x1="576.2" y1="261" x2="576.2" y2="270.4" stroke="#ff0000" stroke-width="2.2" />
<line x1="618.3" y1="261" x2="618.3" y2="270.4" stroke="#ff0000" stroke-width="2.2" />
<line x1="467.5" y1="297.4" x2="666" y2="297.4" stroke="#ff00ff" stroke-width="1.4" />
<line x1="482" y1="295.1" x2="649.3" y2="295.1" stroke="#ffff00" stroke-width="1" />
<rect x="453.9" y="252.2" width="31.1" height="2" fill="url(#txt)"/>
<line x1="453.4" y1="254.7" x2="486" y2="254.7" stroke="#ffff00" stroke-width="1" />
<rect x="461.67" y="255.7" width="15.55" height="1.5" fill="url(#txt)"/>
<line x1="486" y1="254.7" x2="493.6" y2="263.2" stroke="#ffff00" stroke-width="0.9" />
<rect x="492.6" y="262.2" width="2" height="2" fill="#ffff00" stroke="none" stroke-width="1" />
<rect x="551.6" y="273.3" width="20.3" height="2" fill="url(#txt)"/>
<line x1="551.1" y1="275.8" x2="572.9" y2="275.8" stroke="#ffff00" stroke-width="1" />
<rect x="556.67" y="276.8" width="10.15" height="1.5" fill="url(#txt)"/>
<line x1="551.1" y1="275.8" x2="546" y2="269" stroke="#ffff00" stroke-width="0.9" />
<rect x="545" y="268" width="2" height="2" fill="#ffff00" stroke="none" stroke-width="1" />
<rect x="614" y="273.5" width="18.8" height="2" fill="url(#txt)"/>
<line x1="613.5" y1="276" x2="633.8" y2="276" stroke="#ffff00" stroke-width="1" />
<rect x="618.7" y="277" width="9.4" height="1.5" fill="url(#txt)"/>
<line x1="613.5" y1="276" x2="608" y2="269" stroke="#ffff00" stroke-width="0.9" />
<rect x="607" y="268" width="2" height="2" fill="#ffff00" stroke="none" stroke-width="1" />
<rect x="574.8" y="282" width="20.2" height="2" fill="url(#txt)"/>
<line x1="574.3" y1="284.5" x2="596" y2="284.5" stroke="#ffff00" stroke-width="1" />
<rect x="579.85" y="285.5" width="10.1" height="1.5" fill="url(#txt)"/>
<line x1="574.3" y1="284.5" x2="568" y2="290" stroke="#ffff00" stroke-width="0.9" />
<rect x="567" y="289" width="2" height="2" fill="#ffff00" stroke="none" stroke-width="1" />
<rect x="621.7" y="200" width="32" height="3.5" fill="url(#txt)"/>
<line x1="621" y1="204.4" x2="655" y2="204.4" stroke="#ffff00" stroke-width="1" />
<line x1="621" y1="204.4" x2="614" y2="211" stroke="#ffff00" stroke-width="0.9" />
<rect x="622" y="205.5" width="18" height="1.5" fill="url(#txt)"/>
<rect x="660" y="253" width="5" height="5" fill="none" stroke="#00ff00" stroke-width="1" />
<line x1="443" y1="267.5" x2="469" y2="267.5" stroke="#ff0000" stroke-width="1" stroke-dasharray="4,2"/>
<line x1="448.5" y1="262.5" x2="448.5" y2="268.5" stroke="#e0e0e0" stroke-width="1" />
<line x1="446.5" y1="263" x2="458" y2="263" stroke="#d0c8d0" stroke-width="1" stroke-dasharray="2,1"/>
<line x1="446.5" y1="266" x2="450.5" y2="266" stroke="#e0e0e0" stroke-width="1" />
<line x1="443" y1="297.4" x2="469" y2="297.4" stroke="#ff0000" stroke-width="1" stroke-dasharray="4,2"/>
<line x1="448.5" y1="292.4" x2="448.5" y2="298.4" stroke="#e0e0e0" stroke-width="1" />
<line x1="446.5" y1="292.9" x2="458" y2="292.9" stroke="#d0c8d0" stroke-width="1" stroke-dasharray="2,1"/>
<line x1="446.5" y1="295.9" x2="450.5" y2="295.9" stroke="#e0e0e0" stroke-width="1" />
<line x1="664" y1="258.8" x2="682" y2="258.8" stroke="#ff0000" stroke-width="1" stroke-dasharray="4,2"/>
<line x1="670.5" y1="253.8" x2="670.5" y2="259.8" stroke="#e0e0e0" stroke-width="1" />
<line x1="668.5" y1="254.3" x2="680" y2="254.3" stroke="#d0c8d0" stroke-width="1" stroke-dasharray="2,1"/>
<line x1="668.5" y1="257.3" x2="672.5" y2="257.3" stroke="#e0e0e0" stroke-width="1" />
<line x1="482" y1="299" x2="482" y2="306" stroke="#d9a300" stroke-width="1" stroke-dasharray="2,1"/>
<circle cx="482" cy="310.1" r="3.1" fill="#c88400" stroke="#00ffff" stroke-width="1.1" shape-rendering="geometricPrecision"/>
<line x1="525" y1="299" x2="525" y2="306" stroke="#d9a300" stroke-width="1" stroke-dasharray="2,1"/>
<circle cx="525" cy="310.1" r="3.1" fill="#c88400" stroke="#00ffff" stroke-width="1.1" shape-rendering="geometricPrecision"/>
<line x1="642.9" y1="299" x2="642.9" y2="306" stroke="#d9a300" stroke-width="1" stroke-dasharray="2,1"/>
<circle cx="642.9" cy="310.1" r="3.1" fill="#c88400" stroke="#00ffff" stroke-width="1.1" shape-rendering="geometricPrecision"/>
<polygon points="99.3,327.4 304.3,327.4 304.3,365.5 352.3,405 304.3,405 304.3,410.6 99.3,410.6 99.3,405 61.9,365.5" fill="url(#roof)" stroke="none" stroke-width="1" />
<rect x="112" y="328.5" width="16.8" height="82.1" fill="#646064" stroke="none" stroke-width="1" />
<rect x="269.4" y="328.5" width="16.5" height="82.1" fill="#646064" stroke="none" stroke-width="1" />
<line x1="99.3" y1="327.6" x2="304.3" y2="327.6" stroke="#857a85" stroke-width="1" />
<rect x="98.2" y="411.2" width="207.5" height="2.6" fill="#8a868a" stroke="none" stroke-width="1" />
<line x1="99.3" y1="404.5" x2="304.3" y2="404.5" stroke="#000" stroke-width="1" />
<line x1="304" y1="405.6" x2="353" y2="405.6" stroke="#9a969a" stroke-width="1.2" />
<line x1="187.5" y1="361" x2="187.5" y2="368.5" stroke="#d8a000" stroke-width="1.2" />
<line x1="190.5" y1="361" x2="190.5" y2="368.5" stroke="#d8a000" stroke-width="1.2" />
<line x1="193.5" y1="361" x2="193.5" y2="368.5" stroke="#d8a000" stroke-width="1.2" />
<line x1="196.5" y1="361" x2="196.5" y2="368.5" stroke="#d8a000" stroke-width="1.2" />
<line x1="199.5" y1="361" x2="199.5" y2="368.5" stroke="#d8a000" stroke-width="1.2" />
<line x1="202.5" y1="361" x2="202.5" y2="368.5" stroke="#d8a000" stroke-width="1.2" />
<line x1="205.5" y1="361" x2="205.5" y2="368.5" stroke="#d8a000" stroke-width="1.2" />
<line x1="208.5" y1="361" x2="208.5" y2="368.5" stroke="#d8a000" stroke-width="1.2" />
<line x1="211.5" y1="361" x2="211.5" y2="368.5" stroke="#d8a000" stroke-width="1.2" />
<line x1="214.5" y1="361" x2="214.5" y2="368.5" stroke="#d8a000" stroke-width="1.2" />
<line x1="187" y1="365.5" x2="219" y2="365.5" stroke="#ffd000" stroke-width="1" stroke-dasharray="1,2"/>
<line x1="178" y1="372.5" x2="186" y2="365.5" stroke="#ffd000" stroke-width="1" stroke-dasharray="1,2"/>
<line x1="100.6" y1="414" x2="100.6" y2="441" stroke="#ff0000" stroke-width="1" />
<line x1="102.2" y1="414" x2="102.2" y2="441" stroke="#3f8f7f" stroke-width="1.2" />
<line x1="150.6" y1="414" x2="150.6" y2="441" stroke="#ff0000" stroke-width="1" />
<line x1="152.2" y1="414" x2="152.2" y2="441" stroke="#3f8f7f" stroke-width="1.2" />
<line x1="200.8" y1="414" x2="200.8" y2="441" stroke="#ff0000" stroke-width="1" />
<line x1="202.4" y1="414" x2="202.4" y2="441" stroke="#3f8f7f" stroke-width="1.2" />
<line x1="250.7" y1="414" x2="250.7" y2="441" stroke="#ff0000" stroke-width="1" />
<line x1="252.3" y1="414" x2="252.3" y2="441" stroke="#3f8f7f" stroke-width="1.2" />
<line x1="300.7" y1="414" x2="300.7" y2="441" stroke="#ff0000" stroke-width="1" />
<line x1="302.3" y1="414" x2="302.3" y2="441" stroke="#3f8f7f" stroke-width="1.2" />
<line x1="83.3" y1="387.7" x2="83.3" y2="441" stroke="#ff0000" stroke-width="1.2" />
<line x1="343.7" y1="407" x2="343.7" y2="441" stroke="#ff0000" stroke-width="1.2" />
<line x1="301.7" y1="414" x2="301.7" y2="441" stroke="#ff00ff" stroke-width="1" />
<line x1="116.3" y1="414" x2="116.3" y2="441" stroke="#d0d0d0" stroke-width="1" />
<line x1="136.2" y1="414" x2="136.2" y2="441" stroke="#d0d0d0" stroke-width="1" />
<line x1="118.3" y1="414" x2="118.3" y2="441" stroke="#ff0000" stroke-width="1.2" />
<line x1="134.2" y1="414" x2="134.2" y2="441" stroke="#ff0000" stroke-width="1.2" />
<line x1="123.3" y1="415" x2="123.3" y2="441" stroke="#ff0000" stroke-width="1" />
<line x1="129.3" y1="415" x2="129.3" y2="441" stroke="#ff0000" stroke-width="1" />
<line x1="117.3" y1="416" x2="135.2" y2="416" stroke="#ff0000" stroke-width="1" />
<rect x="124.3" y="425" width="5" height="5" fill="none" stroke="#ff0000" stroke-width="1" />
<rect x="130.3" y="426.5" width="18.9" height="2" fill="url(#txt)"/>
<line x1="129.8" y1="429" x2="150.2" y2="429" stroke="#ffff00" stroke-width="1" />
<rect x="135.03" y="430" width="9.45" height="1.5" fill="url(#txt)"/>
<line x1="129.8" y1="429" x2="122.3" y2="437" stroke="#ffff00" stroke-width="0.9" />
<rect x="121.3" y="436" width="2" height="2" fill="#ffff00" stroke="none" stroke-width="1" />
<line x1="267.2" y1="414" x2="267.2" y2="441" stroke="#d0d0d0" stroke-width="1" />
<line x1="286.3" y1="414" x2="286.3" y2="441" stroke="#d0d0d0" stroke-width="1" />
<line x1="269.2" y1="414" x2="269.2" y2="441" stroke="#ff0000" stroke-width="1.2" />
<line x1="284.3" y1="414" x2="284.3" y2="441" stroke="#ff0000" stroke-width="1.2" />
<line x1="274.2" y1="415" x2="274.2" y2="441" stroke="#ff0000" stroke-width="1" />
<line x1="280.2" y1="415" x2="280.2" y2="441" stroke="#ff0000" stroke-width="1" />
<line x1="268.2" y1="416" x2="285.3" y2="416" stroke="#ff0000" stroke-width="1" />
<rect x="275.2" y="425" width="5" height="5" fill="none" stroke="#ff0000" stroke-width="1" />
<rect x="281.2" y="426.5" width="18.1" height="2" fill="url(#txt)"/>
<line x1="280.7" y1="429" x2="300.3" y2="429" stroke="#ffff00" stroke-width="1" />
<rect x="285.73" y="430" width="9.05" height="1.5" fill="url(#txt)"/>
<line x1="280.7" y1="429" x2="273.2" y2="437" stroke="#ffff00" stroke-width="0.9" />
<rect x="272.2" y="436" width="2" height="2" fill="#ffff00" stroke="none" stroke-width="1" />
<rect x="175.2" y="422.6" width="19.4" height="2" fill="url(#txt)"/>
<line x1="174.7" y1="425.1" x2="195.6" y2="425.1" stroke="#ffff00" stroke-width="1" />
<rect x="180.05" y="426.1" width="9.7" height="1.5" fill="url(#txt)"/>
<line x1="174.7" y1="425.1" x2="168" y2="431.3" stroke="#ffff00" stroke-width="0.9" />
<rect x="167" y="430.3" width="2" height="2" fill="#ffff00" stroke="none" stroke-width="1" />
<rect x="225.2" y="422.6" width="19.4" height="2" fill="url(#txt)"/>
<line x1="224.7" y1="425.1" x2="245.6" y2="425.1" stroke="#ffff00" stroke-width="1" />
<rect x="230.05" y="426.1" width="9.7" height="1.5" fill="url(#txt)"/>
<line x1="224.7" y1="425.1" x2="218" y2="431.3" stroke="#ffff00" stroke-width="0.9" />
<rect x="217" y="430.3" width="2" height="2" fill="#ffff00" stroke="none" stroke-width="1" />
<line x1="65" y1="441.1" x2="370" y2="441.1" stroke="#ff00ff" stroke-width="1.4" />
<line x1="100" y1="439.9" x2="370" y2="439.9" stroke="#ffff00" stroke-width="1" />
<line x1="50" y1="440" x2="68" y2="440" stroke="#ff0000" stroke-width="1" stroke-dasharray="4,2"/>
<line x1="55.5" y1="435" x2="55.5" y2="441" stroke="#e0e0e0" stroke-width="1" />
<line x1="53.5" y1="435.5" x2="65" y2="435.5" stroke="#d0c8d0" stroke-width="1" stroke-dasharray="2,1"/>
<line x1="53.5" y1="438.5" x2="57.5" y2="438.5" stroke="#e0e0e0" stroke-width="1" />
<line x1="376" y1="326" x2="400" y2="326" stroke="#ff0000" stroke-width="1" stroke-dasharray="4,2"/>
<line x1="388.5" y1="321" x2="388.5" y2="327" stroke="#e0e0e0" stroke-width="1" />
<line x1="386.5" y1="321.5" x2="398" y2="321.5" stroke="#d0c8d0" stroke-width="1" stroke-dasharray="2,1"/>
<line x1="386.5" y1="324.5" x2="390.5" y2="324.5" stroke="#e0e0e0" stroke-width="1" />
<line x1="376" y1="401" x2="400" y2="401" stroke="#ff0000" stroke-width="1" stroke-dasharray="4,2"/>
<line x1="388.5" y1="396" x2="388.5" y2="402" stroke="#e0e0e0" stroke-width="1" />
<line x1="386.5" y1="396.5" x2="398" y2="396.5" stroke="#d0c8d0" stroke-width="1" stroke-dasharray="2,1"/>
<line x1="386.5" y1="399.5" x2="390.5" y2="399.5" stroke="#e0e0e0" stroke-width="1" />
<line x1="376" y1="441" x2="400" y2="441" stroke="#ff0000" stroke-width="1" stroke-dasharray="4,2"/>
<line x1="388.5" y1="436" x2="388.5" y2="442" stroke="#e0e0e0" stroke-width="1" />
<line x1="386.5" y1="436.5" x2="398" y2="436.5" stroke="#d0c8d0" stroke-width="1" stroke-dasharray="2,1"/>
<line x1="386.5" y1="439.5" x2="390.5" y2="439.5" stroke="#e0e0e0" stroke-width="1" />
<rect x="388" y="322" width="12" height="3" fill="url(#txt)" stroke="none" stroke-width="1" />
<line x1="312" y1="403.5" x2="320" y2="403.5" stroke="#00ff00" stroke-width="1.2" />
<line x1="338.6" y1="403.5" x2="349" y2="403.5" stroke="#00ff00" stroke-width="1.2" />
<line x1="84.8" y1="443" x2="84.8" y2="453" stroke="#d9a300" stroke-width="1" stroke-dasharray="2,1"/>
<circle cx="84.8" cy="458.4" r="3.1" fill="#c88400" stroke="#00ffff" stroke-width="1.1" shape-rendering="geometricPrecision"/>
<line x1="101.6" y1="443" x2="101.6" y2="453" stroke="#d9a300" stroke-width="1" stroke-dasharray="2,1"/>
<circle cx="101.6" cy="458.4" r="3.1" fill="#c88400" stroke="#00ffff" stroke-width="1.1" shape-rendering="geometricPrecision"/>
<line x1="151.6" y1="443" x2="151.6" y2="453" stroke="#d9a300" stroke-width="1" stroke-dasharray="2,1"/>
<circle cx="151.6" cy="458.4" r="3.1" fill="#c88400" stroke="#00ffff" stroke-width="1.1" shape-rendering="geometricPrecision"/>
<line x1="201.8" y1="443" x2="201.8" y2="453" stroke="#d9a300" stroke-width="1" stroke-dasharray="2,1"/>
<circle cx="201.8" cy="458.4" r="3.1" fill="#c88400" stroke="#00ffff" stroke-width="1.1" shape-rendering="geometricPrecision"/>
<line x1="251.7" y1="443" x2="251.7" y2="453" stroke="#d9a300" stroke-width="1" stroke-dasharray="2,1"/>
<circle cx="251.7" cy="458.4" r="3.1" fill="#c88400" stroke="#00ffff" stroke-width="1.1" shape-rendering="geometricPrecision"/>
<line x1="301.7" y1="443" x2="301.7" y2="453" stroke="#d9a300" stroke-width="1" stroke-dasharray="2,1"/>
<circle cx="301.7" cy="458.4" r="3.1" fill="#c88400" stroke="#00ffff" stroke-width="1.1" shape-rendering="geometricPrecision"/>
<line x1="342.6" y1="443" x2="342.6" y2="453" stroke="#d9a300" stroke-width="1" stroke-dasharray="2,1"/>
<circle cx="342.6" cy="458.4" r="3.1" fill="#c88400" stroke="#00ffff" stroke-width="1.1" shape-rendering="geometricPrecision"/>
<polygon points="467.1,327.4 670.8,327.4 709,365.5 672,401.2 672,405 467.1,405" fill="url(#roof)" stroke="none" stroke-width="1" />
<polygon points="467.1,365.5 467.1,405 418.6,405" fill="#646064" stroke="none" stroke-width="1" />
<rect x="467.1" y="328.5" width="10.6" height="76.5" fill="#646064" stroke="none" stroke-width="1" />
<rect x="611.4" y="328.5" width="26.4" height="76.5" fill="#646064" stroke="none" stroke-width="1" />
<line x1="467.1" y1="327.6" x2="670.8" y2="327.6" stroke="#857a85" stroke-width="1" />
<rect x="416.9" y="404.5" width="255.1" height="2.9" fill="#8a868a" stroke="none" stroke-width="1" />
<line x1="538.5" y1="360" x2="538.5" y2="367.5" stroke="#d8a000" stroke-width="1.2" />
<line x1="541.5" y1="360" x2="541.5" y2="367.5" stroke="#d8a000" stroke-width="1.2" />
<line x1="544.5" y1="360" x2="544.5" y2="367.5" stroke="#d8a000" stroke-width="1.2" />
<line x1="547.5" y1="360" x2="547.5" y2="367.5" stroke="#d8a000" stroke-width="1.2" />
<line x1="550.5" y1="360" x2="550.5" y2="367.5" stroke="#d8a000" stroke-width="1.2" />
<line x1="553.5" y1="360" x2="553.5" y2="367.5" stroke="#d8a000" stroke-width="1.2" />
<line x1="556.5" y1="360" x2="556.5" y2="367.5" stroke="#d8a000" stroke-width="1.2" />
<line x1="559.5" y1="360" x2="559.5" y2="367.5" stroke="#d8a000" stroke-width="1.2" />
<line x1="562.5" y1="360" x2="562.5" y2="367.5" stroke="#d8a000" stroke-width="1.2" />
<line x1="565.5" y1="360" x2="565.5" y2="367.5" stroke="#d8a000" stroke-width="1.2" />
<line x1="538" y1="364.5" x2="570" y2="364.5" stroke="#ffd000" stroke-width="1" stroke-dasharray="1,2"/>
<line x1="529" y1="371.5" x2="537" y2="364.5" stroke="#ffd000" stroke-width="1" stroke-dasharray="1,2"/>
<line x1="427.7" y1="407.5" x2="427.7" y2="441" stroke="#ff0000" stroke-width="1.3" />
<line x1="470" y1="407.5" x2="470" y2="441" stroke="#ff0000" stroke-width="1.3" />
<line x1="517.5" y1="407.5" x2="517.5" y2="441" stroke="#ff0000" stroke-width="1.3" />
<line x1="520.8" y1="407.5" x2="520.8" y2="441" stroke="#ff0000" stroke-width="1.3" />
<line x1="567.9" y1="407.5" x2="567.9" y2="441" stroke="#ff0000" stroke-width="1.3" />
<line x1="570.8" y1="407.5" x2="570.8" y2="441" stroke="#ff0000" stroke-width="1.3" />
<line x1="617.9" y1="407.5" x2="617.9" y2="441" stroke="#ff0000" stroke-width="1.3" />
<line x1="620.8" y1="407.5" x2="620.8" y2="441" stroke="#ff0000" stroke-width="1.3" />
<line x1="667.5" y1="407.5" x2="667.5" y2="441" stroke="#ff0000" stroke-width="1.3" />
<line x1="670.4" y1="407.5" x2="670.4" y2="441" stroke="#ff0000" stroke-width="1.3" />
<line x1="686" y1="387.7" x2="686" y2="441" stroke="#ff0000" stroke-width="1.3" />
<line x1="483.8" y1="407.5" x2="483.8" y2="441" stroke="#d0d0d0" stroke-width="1" />
<line x1="503.8" y1="407.5" x2="503.8" y2="441" stroke="#d0d0d0" stroke-width="1" />
<line x1="633.5" y1="407.5" x2="633.5" y2="441" stroke="#d0d0d0" stroke-width="1" />
<line x1="653.4" y1="407.5" x2="653.4" y2="441" stroke="#d0d0d0" stroke-width="1" />
<line x1="443.3" y1="416" x2="443.3" y2="441" stroke="#ff0000" stroke-width="1.2" />
<line x1="453" y1="416" x2="453" y2="441" stroke="#ff0000" stroke-width="1.2" />
<line x1="446.3" y1="418" x2="446.3" y2="441" stroke="#ff0000" stroke-width="1" />
<line x1="443.3" y1="417" x2="453" y2="417" stroke="#ff0000" stroke-width="1" />
<line x1="485.7" y1="416" x2="485.7" y2="441" stroke="#ff0000" stroke-width="1.2" />
<line x1="503.8" y1="416" x2="503.8" y2="441" stroke="#ff0000" stroke-width="1.2" />
<line x1="488.7" y1="418" x2="488.7" y2="441" stroke="#ff0000" stroke-width="1" />
<line x1="485.7" y1="417" x2="503.8" y2="417" stroke="#ff0000" stroke-width="1" />
<line x1="634.2" y1="416" x2="634.2" y2="441" stroke="#ff0000" stroke-width="1.2" />
<line x1="652.3" y1="416" x2="652.3" y2="441" stroke="#ff0000" stroke-width="1.2" />
<line x1="637.2" y1="418" x2="637.2" y2="441" stroke="#ff0000" stroke-width="1" />
<line x1="634.2" y1="417" x2="652.3" y2="417" stroke="#ff0000" stroke-width="1" />
<rect x="491" y="425" width="6" height="6" fill="none" stroke="#ff0000" stroke-width="1" />
<rect x="628" y="424" width="6" height="6" fill="none" stroke="#ff0000" stroke-width="1" />
<rect x="462" y="413.8" width="21" height="2" fill="url(#txt)"/>
<line x1="461.5" y1="416.3" x2="484" y2="416.3" stroke="#ffff00" stroke-width="1" />
<rect x="467.25" y="417.3" width="10.5" height="1.5" fill="url(#txt)"/>
<line x1="461.5" y1="416.3" x2="455" y2="421" stroke="#ffff00" stroke-width="0.9" />
<rect x="454" y="420" width="2" height="2" fill="#ffff00" stroke="none" stroke-width="1" />
<rect x="454.9" y="428" width="14.4" height="2" fill="url(#txt)"/>
<line x1="454.4" y1="430.5" x2="470.3" y2="430.5" stroke="#ffff00" stroke-width="1" />
<rect x="458.5" y="431.5" width="7.2" height="1.5" fill="url(#txt)"/>
<line x1="454.4" y1="430.5" x2="447" y2="436" stroke="#ffff00" stroke-width="0.9" />
<rect x="446" y="435" width="2" height="2" fill="#ffff00" stroke="none" stroke-width="1" />
<rect x="503.8" y="428" width="18.1" height="2" fill="url(#txt)"/>
<line x1="503.3" y1="430.5" x2="522.9" y2="430.5" stroke="#ffff00" stroke-width="1" />
<rect x="508.32" y="431.5" width="9.05" height="1.5" fill="url(#txt)"/>
<line x1="503.3" y1="430.5" x2="497" y2="436" stroke="#ffff00" stroke-width="0.9" />
<rect x="496" y="435" width="2" height="2" fill="#ffff00" stroke="none" stroke-width="1" />
<rect x="545.4" y="414.5" width="18.9" height="2" fill="url(#txt)"/>
<line x1="544.9" y1="417" x2="565.3" y2="417" stroke="#ffff00" stroke-width="1" />
<rect x="550.12" y="418" width="9.45" height="1.5" fill="url(#txt)"/>
<line x1="544.9" y1="417" x2="538" y2="422" stroke="#ffff00" stroke-width="0.9" />
<rect x="537" y="421" width="2" height="2" fill="#ffff00" stroke="none" stroke-width="1" />
<rect x="592.5" y="414.5" width="20" height="2" fill="url(#txt)"/>
<line x1="592" y1="417" x2="613.5" y2="417" stroke="#ffff00" stroke-width="1" />
<rect x="597.5" y="418" width="10" height="1.5" fill="url(#txt)"/>
<line x1="592" y1="417" x2="585" y2="422" stroke="#ffff00" stroke-width="0.9" />
<rect x="584" y="421" width="2" height="2" fill="#ffff00" stroke="none" stroke-width="1" />
<rect x="634.2" y="414.5" width="18.1" height="2" fill="url(#txt)"/>
<line x1="633.7" y1="417" x2="653.3" y2="417" stroke="#ffff00" stroke-width="1" />
<rect x="638.73" y="418" width="9.05" height="1.5" fill="url(#txt)"/>
<line x1="633.7" y1="417" x2="628" y2="422" stroke="#ffff00" stroke-width="0.9" />
<rect x="627" y="421" width="2" height="2" fill="#ffff00" stroke="none" stroke-width="1" />
<rect x="646.9" y="428" width="19.9" height="2" fill="url(#txt)"/>
<line x1="646.4" y1="430.5" x2="667.8" y2="430.5" stroke="#ffff00" stroke-width="1" />
<rect x="651.88" y="431.5" width="9.95" height="1.5" fill="url(#txt)"/>
<line x1="646.4" y1="430.5" x2="640" y2="436" stroke="#ffff00" stroke-width="0.9" />
<rect x="639" y="435" width="2" height="2" fill="#ffff00" stroke="none" stroke-width="1" />
<line x1="411.6" y1="441.2" x2="709" y2="441.2" stroke="#ff00ff" stroke-width="1.4" />
<line x1="428" y1="439.9" x2="690" y2="439.9" stroke="#ffff00" stroke-width="1" />
<line x1="427.7" y1="443" x2="427.7" y2="453" stroke="#d9a300" stroke-width="1" stroke-dasharray="2,1"/>
<circle cx="427.7" cy="458" r="3.1" fill="#c88400" stroke="#00ffff" stroke-width="1.1" shape-rendering="geometricPrecision"/>
<line x1="468.6" y1="443" x2="468.6" y2="453" stroke="#d9a300" stroke-width="1" stroke-dasharray="2,1"/>
<circle cx="468.6" cy="458" r="3.1" fill="#c88400" stroke="#00ffff" stroke-width="1.1" shape-rendering="geometricPrecision"/>
<line x1="518.3" y1="443" x2="518.3" y2="453" stroke="#d9a300" stroke-width="1" stroke-dasharray="2,1"/>
<circle cx="518.3" cy="458" r="3.1" fill="#c88400" stroke="#00ffff" stroke-width="1.1" shape-rendering="geometricPrecision"/>
<line x1="569" y1="443" x2="569" y2="453" stroke="#d9a300" stroke-width="1" stroke-dasharray="2,1"/>
<circle cx="569" cy="458" r="3.1" fill="#c88400" stroke="#00ffff" stroke-width="1.1" shape-rendering="geometricPrecision"/>
<line x1="619" y1="443" x2="619" y2="453" stroke="#d9a300" stroke-width="1" stroke-dasharray="2,1"/>
<circle cx="619" cy="458" r="3.1" fill="#c88400" stroke="#00ffff" stroke-width="1.1" shape-rendering="geometricPrecision"/>
<line x1="668.6" y1="443" x2="668.6" y2="453" stroke="#d9a300" stroke-width="1" stroke-dasharray="2,1"/>
<circle cx="668.6" cy="458" r="3.1" fill="#c88400" stroke="#00ffff" stroke-width="1.1" shape-rendering="geometricPrecision"/>
<line x1="686" y1="443" x2="686" y2="453" stroke="#d9a300" stroke-width="1" stroke-dasharray="2,1"/>
<circle cx="686" cy="458" r="3.1" fill="#c88400" stroke="#00ffff" stroke-width="1.1" shape-rendering="geometricPrecision"/>
<text x="300.6" y="316.4" font-size="12.6" fill="#ffff00" font-family="Liberation Serif" font-weight="bold" stroke="#ffff00" stroke-width="0.85" lengthAdjust="spacingAndGlyphs" textLength="134.7">PLANTA PRIMER FISO</text>
<text x="610.1" y="195.7" font-size="12.6" fill="#ffff00" font-family="Liberation Serif" font-weight="bold" stroke="#ffff00" stroke-width="0.85" lengthAdjust="spacingAndGlyphs" textLength="97.9">ELEVACION E-4</text>
<text x="610.1" y="323.5" font-size="12.6" fill="#ffff00" font-family="Liberation Serif" font-weight="bold" stroke="#ffff00" stroke-width="0.85" lengthAdjust="spacingAndGlyphs" textLength="97.9">ELEVACION E-3</text>
<text x="610.1" y="474.6" font-size="12.6" fill="#ffff00" font-family="Liberation Serif" font-weight="bold" stroke="#ffff00" stroke-width="0.85" lengthAdjust="spacingAndGlyphs" textLength="97.9">ELEVACION E-2</text>
<text x="194.2" y="476.9" font-size="12.6" fill="#ffff00" font-family="Liberation Serif" font-weight="bold" stroke="#ffff00" stroke-width="0.85" lengthAdjust="spacingAndGlyphs" textLength="178.8">ELEVACION PRINCIPAL / E-1</text>
</svg></body></html>
